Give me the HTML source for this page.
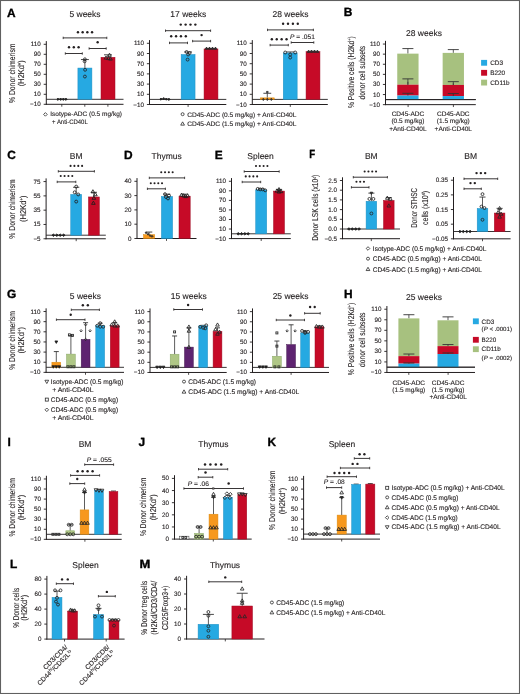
<!DOCTYPE html>
<html><head><meta charset="utf-8"><style>
html,body{margin:0;padding:0;background:#fff;}
body{width:520px;height:694px;overflow:hidden;}
svg{display:block;font-family:"Liberation Sans", sans-serif;text-rendering:geometricPrecision;filter:blur(0.35px);}
text{fill:#231f20;stroke:#231f20;stroke-width:0.12px;}
</style></head><body>
<svg width="520" height="694" viewBox="0 0 520 694">
<rect width="520" height="694" fill="#fff"/>
<rect x="0.5" y="0.5" width="519" height="693" fill="none" stroke="#606060" stroke-width="1.1"/>
<text x="7.1" y="16.9" font-size="11.9" font-weight="bold" fill="#000" style="stroke-width:0.35px;fill:#000;stroke:#000">A</text>
<line x1="46.3" y1="41.1" x2="46.3" y2="104.75" stroke="#231f20" stroke-width="1"/>
<line x1="43.7" y1="104.3" x2="46.3" y2="104.3" stroke="#231f20" stroke-width="0.9"/>
<text x="40.8" y="106.3" font-size="6.3" text-anchor="end">−10</text>
<line x1="43.7" y1="94.3" x2="46.3" y2="94.3" stroke="#231f20" stroke-width="0.9"/>
<text x="40.8" y="96.3" font-size="6.3" text-anchor="end">10</text>
<line x1="43.7" y1="84.3" x2="46.3" y2="84.3" stroke="#231f20" stroke-width="0.9"/>
<text x="40.8" y="86.3" font-size="6.3" text-anchor="end">30</text>
<line x1="43.7" y1="74.3" x2="46.3" y2="74.3" stroke="#231f20" stroke-width="0.9"/>
<text x="40.8" y="76.3" font-size="6.3" text-anchor="end">50</text>
<line x1="43.7" y1="64.3" x2="46.3" y2="64.3" stroke="#231f20" stroke-width="0.9"/>
<text x="40.8" y="66.3" font-size="6.3" text-anchor="end">70</text>
<line x1="43.7" y1="54.3" x2="46.3" y2="54.3" stroke="#231f20" stroke-width="0.9"/>
<text x="40.8" y="56.3" font-size="6.3" text-anchor="end">90</text>
<line x1="43.7" y1="44.3" x2="46.3" y2="44.3" stroke="#231f20" stroke-width="0.9"/>
<text x="40.8" y="46.3" font-size="6.3" text-anchor="end">110</text>
<line x1="45.8" y1="104.3" x2="123.5" y2="104.3" stroke="#231f20" stroke-width="1"/>
<line x1="46.3" y1="99.3" x2="123.5" y2="99.3" stroke="#231f20" stroke-width="0.9"/>
<line x1="61.8" y1="104.3" x2="61.8" y2="106.7" stroke="#231f20" stroke-width="0.8"/>
<line x1="84.8" y1="104.3" x2="84.8" y2="106.7" stroke="#231f20" stroke-width="0.8"/>
<line x1="107.9" y1="104.3" x2="107.9" y2="106.7" stroke="#231f20" stroke-width="0.8"/>
<text x="85" y="17.4" font-size="8.5" text-anchor="middle">5 weeks</text>
<line x1="84.9" y1="68.05" x2="84.9" y2="59.55" stroke="#333" stroke-width="0.8"/>
<line x1="80.94" y1="59.55" x2="88.86" y2="59.55" stroke="#333" stroke-width="0.9"/>
<rect x="77.9" y="68.05" width="14" height="31.25" fill="#26a9e2" stroke="#1f8fc4" stroke-width="0.5"/>
<line x1="108" y1="57.3" x2="108" y2="54.8" stroke="#333" stroke-width="0.8"/>
<line x1="104.04" y1="54.8" x2="111.96" y2="54.8" stroke="#333" stroke-width="0.9"/>
<rect x="101" y="57.3" width="14" height="42" fill="#c60a27" stroke="#9e0c24" stroke-width="0.5"/>
<polygon points="58,98.22 59.08,99.3 58,100.38 56.92,99.3" fill="#222" stroke="#222" stroke-width="0.85"/>
<polygon points="60.7,98.22 61.78,99.3 60.7,100.38 59.62,99.3" fill="#222" stroke="#222" stroke-width="0.85"/>
<polygon points="63.3,98.22 64.38,99.3 63.3,100.38 62.22,99.3" fill="#222" stroke="#222" stroke-width="0.85"/>
<polygon points="66,98.22 67.08,99.3 66,100.38 64.92,99.3" fill="#222" stroke="#222" stroke-width="0.85"/>
<line x1="57" y1="98.9" x2="67" y2="98.9" stroke="#222" stroke-width="0.7"/>
<circle cx="84.9" cy="59.3" r="1.45" fill="none" stroke="#262626" stroke-width="0.85"/>
<circle cx="84.6" cy="61.3" r="1.45" fill="none" stroke="#262626" stroke-width="0.85"/>
<circle cx="85.1" cy="69.8" r="1.45" fill="none" stroke="#262626" stroke-width="0.85"/>
<circle cx="84.9" cy="76.55" r="1.45" fill="none" stroke="#262626" stroke-width="0.85"/>
<polygon points="109.5,53.16 111.31,56.35 107.69,56.35" fill="none" stroke="#262626" stroke-width="0.85"/>
<polygon points="106,55.91 107.81,59.1 104.19,59.1" fill="none" stroke="#262626" stroke-width="0.85"/>
<polygon points="108.5,56.41 110.31,59.6 106.69,59.6" fill="none" stroke="#262626" stroke-width="0.85"/>
<polygon points="110.5,56.91 112.31,60.1 108.69,60.1" fill="none" stroke="#262626" stroke-width="0.85"/>
<line x1="63.2" y1="37.9" x2="106.8" y2="37.9" stroke="#231f20" stroke-width="0.9"/>
<line x1="63.2" y1="36.7" x2="63.2" y2="39.1" stroke="#231f20" stroke-width="0.8"/>
<line x1="106.8" y1="36.7" x2="106.8" y2="39.1" stroke="#231f20" stroke-width="0.8"/>
<circle cx="77.95" cy="32.3" r="1.2" fill="#231f20"/>
<circle cx="82.65" cy="32.3" r="1.2" fill="#231f20"/>
<circle cx="87.35" cy="32.3" r="1.2" fill="#231f20"/>
<circle cx="92.05" cy="32.3" r="1.2" fill="#231f20"/>
<line x1="65.3" y1="53.5" x2="82.3" y2="53.5" stroke="#231f20" stroke-width="0.9"/>
<line x1="65.3" y1="52.3" x2="65.3" y2="54.7" stroke="#231f20" stroke-width="0.8"/>
<line x1="82.3" y1="52.3" x2="82.3" y2="54.7" stroke="#231f20" stroke-width="0.8"/>
<circle cx="69" cy="47.2" r="1.2" fill="#231f20"/>
<circle cx="73.8" cy="47.2" r="1.2" fill="#231f20"/>
<circle cx="78.6" cy="47.2" r="1.2" fill="#231f20"/>
<line x1="89.1" y1="48.5" x2="106.2" y2="48.5" stroke="#231f20" stroke-width="0.9"/>
<line x1="89.1" y1="47.3" x2="89.1" y2="49.7" stroke="#231f20" stroke-width="0.8"/>
<line x1="106.2" y1="47.3" x2="106.2" y2="49.7" stroke="#231f20" stroke-width="0.8"/>
<circle cx="97.65" cy="42.2" r="1.2" fill="#231f20"/>
<text x="-73.3" y="14.99" font-size="8.6" text-anchor="middle" textLength="59.6" lengthAdjust="spacingAndGlyphs" transform="rotate(-90)">% Donor chimerism</text>
<text x="-73.2" y="24.29" font-size="8.6" text-anchor="middle" textLength="26" lengthAdjust="spacingAndGlyphs" transform="rotate(-90)">(H2Kd<tspan font-size="5" dy="-3.0">+</tspan><tspan dy="3.0">)</tspan></text>
<polygon points="45.4,112.6 47.2,114.4 45.4,116.2 43.6,114.4" fill="none" stroke="#2a2a2a" stroke-width="0.8"/>
<text x="50.2" y="116.4" font-size="6.5" textLength="71.8" lengthAdjust="spacingAndGlyphs">Isotype-ADC (0.5 mg/kg)</text>
<text x="52.1" y="124" font-size="6.5" textLength="35.6" lengthAdjust="spacingAndGlyphs">+ Anti-CD40L</text>
<line x1="149.5" y1="40.1" x2="149.5" y2="104.95" stroke="#231f20" stroke-width="1"/>
<line x1="146.9" y1="104.5" x2="149.5" y2="104.5" stroke="#231f20" stroke-width="0.9"/>
<text x="144" y="106.5" font-size="6.3" text-anchor="end">−10</text>
<line x1="146.9" y1="94.3" x2="149.5" y2="94.3" stroke="#231f20" stroke-width="0.9"/>
<text x="144" y="96.3" font-size="6.3" text-anchor="end">10</text>
<line x1="146.9" y1="84.1" x2="149.5" y2="84.1" stroke="#231f20" stroke-width="0.9"/>
<text x="144" y="86.1" font-size="6.3" text-anchor="end">30</text>
<line x1="146.9" y1="73.9" x2="149.5" y2="73.9" stroke="#231f20" stroke-width="0.9"/>
<text x="144" y="75.9" font-size="6.3" text-anchor="end">50</text>
<line x1="146.9" y1="63.7" x2="149.5" y2="63.7" stroke="#231f20" stroke-width="0.9"/>
<text x="144" y="65.7" font-size="6.3" text-anchor="end">70</text>
<line x1="146.9" y1="53.5" x2="149.5" y2="53.5" stroke="#231f20" stroke-width="0.9"/>
<text x="144" y="55.5" font-size="6.3" text-anchor="end">90</text>
<line x1="146.9" y1="43.3" x2="149.5" y2="43.3" stroke="#231f20" stroke-width="0.9"/>
<text x="144" y="45.3" font-size="6.3" text-anchor="end">110</text>
<line x1="149" y1="104.5" x2="226.3" y2="104.5" stroke="#231f20" stroke-width="1"/>
<line x1="149.5" y1="99.4" x2="226.3" y2="99.4" stroke="#231f20" stroke-width="0.9"/>
<line x1="188.1" y1="104.5" x2="188.1" y2="106.9" stroke="#231f20" stroke-width="0.8"/>
<text x="188.3" y="17.4" font-size="8.5" text-anchor="middle">17 weeks</text>
<line x1="188.1" y1="54.52" x2="188.1" y2="51.97" stroke="#333" stroke-width="0.8"/>
<line x1="184.17" y1="51.97" x2="192.03" y2="51.97" stroke="#333" stroke-width="0.9"/>
<rect x="181.15" y="54.52" width="13.9" height="44.88" fill="#26a9e2" stroke="#1f8fc4" stroke-width="0.5"/>
<line x1="211" y1="48.91" x2="211" y2="48.4" stroke="#333" stroke-width="0.8"/>
<line x1="207.07" y1="48.4" x2="214.93" y2="48.4" stroke="#333" stroke-width="0.9"/>
<rect x="204.05" y="48.91" width="13.9" height="50.49" fill="#c60a27" stroke="#9e0c24" stroke-width="0.5"/>
<polygon points="161,98.07 162.08,99.15 161,100.23 159.92,99.15" fill="#222" stroke="#222" stroke-width="0.85"/>
<polygon points="163.7,97.56 164.78,98.64 163.7,99.72 162.62,98.64" fill="#222" stroke="#222" stroke-width="0.85"/>
<polygon points="166.3,98.07 167.38,99.15 166.3,100.23 165.22,99.15" fill="#222" stroke="#222" stroke-width="0.85"/>
<polygon points="169,98.32 170.08,99.4 169,100.48 167.92,99.4" fill="#222" stroke="#222" stroke-width="0.85"/>
<line x1="160" y1="99" x2="170" y2="99" stroke="#222" stroke-width="0.7"/>
<circle cx="186.6" cy="51.97" r="1.45" fill="none" stroke="#262626" stroke-width="0.85"/>
<circle cx="189.6" cy="52.99" r="1.45" fill="none" stroke="#262626" stroke-width="0.85"/>
<circle cx="188.1" cy="54.52" r="1.45" fill="none" stroke="#262626" stroke-width="0.85"/>
<circle cx="187.6" cy="59.62" r="1.45" fill="none" stroke="#262626" stroke-width="0.85"/>
<polygon points="206.5,47.1 207.75,49.3 205.25,49.3" fill="#3a3a3a" stroke="#262626" stroke-width="0.85"/>
<polygon points="209.5,47.1 210.75,49.3 208.25,49.3" fill="#3a3a3a" stroke="#262626" stroke-width="0.85"/>
<polygon points="212.5,47.1 213.75,49.3 211.25,49.3" fill="#3a3a3a" stroke="#262626" stroke-width="0.85"/>
<polygon points="215.5,47.1 216.75,49.3 214.25,49.3" fill="#3a3a3a" stroke="#262626" stroke-width="0.85"/>
<line x1="165.5" y1="30.7" x2="210.6" y2="30.7" stroke="#231f20" stroke-width="0.9"/>
<line x1="165.5" y1="29.5" x2="165.5" y2="31.9" stroke="#231f20" stroke-width="0.8"/>
<line x1="210.6" y1="29.5" x2="210.6" y2="31.9" stroke="#231f20" stroke-width="0.8"/>
<circle cx="180.75" cy="24.6" r="1.2" fill="#231f20"/>
<circle cx="185.62" cy="24.6" r="1.2" fill="#231f20"/>
<circle cx="190.49" cy="24.6" r="1.2" fill="#231f20"/>
<circle cx="195.36" cy="24.6" r="1.2" fill="#231f20"/>
<line x1="169.5" y1="42.9" x2="187.5" y2="42.9" stroke="#231f20" stroke-width="0.9"/>
<line x1="169.5" y1="41.7" x2="169.5" y2="44.1" stroke="#231f20" stroke-width="0.8"/>
<line x1="187.5" y1="41.7" x2="187.5" y2="44.1" stroke="#231f20" stroke-width="0.8"/>
<circle cx="171.19" cy="36.3" r="1.2" fill="#231f20"/>
<circle cx="176.06" cy="36.3" r="1.2" fill="#231f20"/>
<circle cx="180.94" cy="36.3" r="1.2" fill="#231f20"/>
<circle cx="185.81" cy="36.3" r="1.2" fill="#231f20"/>
<line x1="192.6" y1="41.1" x2="210.6" y2="41.1" stroke="#231f20" stroke-width="0.9"/>
<line x1="192.6" y1="39.9" x2="192.6" y2="42.3" stroke="#231f20" stroke-width="0.8"/>
<line x1="210.6" y1="39.9" x2="210.6" y2="42.3" stroke="#231f20" stroke-width="0.8"/>
<circle cx="201.6" cy="35.1" r="1.2" fill="#231f20"/>
<circle cx="182.6" cy="114.2" r="1.5" fill="none" stroke="#2a2a2a" stroke-width="0.8"/>
<text x="187.2" y="116.6" font-size="6.5" textLength="109.2" lengthAdjust="spacingAndGlyphs">CD45-ADC (0.5 mg/kg) + Anti-CD40L</text>
<polygon points="182.6,121.85 184.47,125.15 180.72,125.15" fill="none" stroke="#2a2a2a" stroke-width="0.8"/>
<text x="187.2" y="126.2" font-size="6.5" textLength="109.2" lengthAdjust="spacingAndGlyphs">CD45-ADC (1.5 mg/kg) + Anti-CD40L</text>
<line x1="252.3" y1="40.1" x2="252.3" y2="104.95" stroke="#231f20" stroke-width="1"/>
<line x1="249.7" y1="104.5" x2="252.3" y2="104.5" stroke="#231f20" stroke-width="0.9"/>
<text x="246.8" y="106.5" font-size="6.3" text-anchor="end">−10</text>
<line x1="249.7" y1="94.3" x2="252.3" y2="94.3" stroke="#231f20" stroke-width="0.9"/>
<text x="246.8" y="96.3" font-size="6.3" text-anchor="end">10</text>
<line x1="249.7" y1="84.1" x2="252.3" y2="84.1" stroke="#231f20" stroke-width="0.9"/>
<text x="246.8" y="86.1" font-size="6.3" text-anchor="end">30</text>
<line x1="249.7" y1="73.9" x2="252.3" y2="73.9" stroke="#231f20" stroke-width="0.9"/>
<text x="246.8" y="75.9" font-size="6.3" text-anchor="end">50</text>
<line x1="249.7" y1="63.7" x2="252.3" y2="63.7" stroke="#231f20" stroke-width="0.9"/>
<text x="246.8" y="65.7" font-size="6.3" text-anchor="end">70</text>
<line x1="249.7" y1="53.5" x2="252.3" y2="53.5" stroke="#231f20" stroke-width="0.9"/>
<text x="246.8" y="55.5" font-size="6.3" text-anchor="end">90</text>
<line x1="249.7" y1="43.3" x2="252.3" y2="43.3" stroke="#231f20" stroke-width="0.9"/>
<text x="246.8" y="45.3" font-size="6.3" text-anchor="end">110</text>
<line x1="251.8" y1="104.5" x2="327.8" y2="104.5" stroke="#231f20" stroke-width="1"/>
<line x1="252.3" y1="99.4" x2="327.8" y2="99.4" stroke="#231f20" stroke-width="0.9"/>
<line x1="290.3" y1="104.5" x2="290.3" y2="106.9" stroke="#231f20" stroke-width="0.8"/>
<text x="290.5" y="17.4" font-size="8.5" text-anchor="middle">28 weeks</text>
<line x1="267.3" y1="97.87" x2="267.3" y2="93.28" stroke="#333" stroke-width="0.8"/>
<line x1="263.37" y1="93.28" x2="271.23" y2="93.28" stroke="#333" stroke-width="0.9"/>
<rect x="260.35" y="97.87" width="13.9" height="1.53" fill="#f7981d" stroke="#d98a10" stroke-width="0.5"/>
<line x1="290.2" y1="52.99" x2="290.2" y2="51.97" stroke="#333" stroke-width="0.8"/>
<line x1="286.27" y1="51.97" x2="294.13" y2="51.97" stroke="#333" stroke-width="0.9"/>
<rect x="283.25" y="52.99" width="13.9" height="46.41" fill="#26a9e2" stroke="#1f8fc4" stroke-width="0.5"/>
<line x1="313" y1="51.72" x2="313" y2="51.21" stroke="#333" stroke-width="0.8"/>
<line x1="309.07" y1="51.21" x2="316.93" y2="51.21" stroke="#333" stroke-width="0.9"/>
<rect x="306.05" y="51.72" width="13.9" height="47.69" fill="#c60a27" stroke="#9e0c24" stroke-width="0.5"/>
<polygon points="263.3,98.32 264.38,99.4 263.3,100.48 262.22,99.4" fill="#333" stroke="#333" stroke-width="0.85"/>
<polygon points="267.3,98.32 268.38,99.4 267.3,100.48 266.22,99.4" fill="#333" stroke="#333" stroke-width="0.85"/>
<polygon points="271.3,98.32 272.38,99.4 271.3,100.48 270.22,99.4" fill="#333" stroke="#333" stroke-width="0.85"/>
<polygon points="267.3,90.93 268.38,92.01 267.3,93.09 266.22,92.01" fill="#333" stroke="#333" stroke-width="0.85"/>
<circle cx="285.2" cy="52.48" r="1.45" fill="none" stroke="#262626" stroke-width="0.85"/>
<circle cx="295.2" cy="52.48" r="1.45" fill="none" stroke="#262626" stroke-width="0.85"/>
<circle cx="290.2" cy="54.52" r="1.45" fill="none" stroke="#262626" stroke-width="0.85"/>
<circle cx="290.2" cy="57.58" r="1.45" fill="none" stroke="#262626" stroke-width="0.85"/>
<polygon points="308.5,50.16 309.75,52.36 307.25,52.36" fill="#3a3a3a" stroke="#262626" stroke-width="0.85"/>
<polygon points="311.5,50.16 312.75,52.36 310.25,52.36" fill="#3a3a3a" stroke="#262626" stroke-width="0.85"/>
<polygon points="314.5,50.16 315.75,52.36 313.25,52.36" fill="#3a3a3a" stroke="#262626" stroke-width="0.85"/>
<polygon points="317.5,50.16 318.75,52.36 316.25,52.36" fill="#3a3a3a" stroke="#262626" stroke-width="0.85"/>
<line x1="267.5" y1="29.9" x2="313.4" y2="29.9" stroke="#231f20" stroke-width="0.9"/>
<line x1="267.5" y1="28.7" x2="267.5" y2="31.1" stroke="#231f20" stroke-width="0.8"/>
<line x1="313.4" y1="28.7" x2="313.4" y2="31.1" stroke="#231f20" stroke-width="0.8"/>
<circle cx="283.1" cy="23.7" r="1.2" fill="#231f20"/>
<circle cx="288" cy="23.7" r="1.2" fill="#231f20"/>
<circle cx="292.9" cy="23.7" r="1.2" fill="#231f20"/>
<circle cx="297.8" cy="23.7" r="1.2" fill="#231f20"/>
<line x1="270.1" y1="45.1" x2="288.3" y2="45.1" stroke="#231f20" stroke-width="0.9"/>
<line x1="270.1" y1="43.9" x2="270.1" y2="46.3" stroke="#231f20" stroke-width="0.8"/>
<line x1="288.3" y1="43.9" x2="288.3" y2="46.3" stroke="#231f20" stroke-width="0.8"/>
<circle cx="271.85" cy="39.2" r="1.2" fill="#231f20"/>
<circle cx="276.75" cy="39.2" r="1.2" fill="#231f20"/>
<circle cx="281.65" cy="39.2" r="1.2" fill="#231f20"/>
<circle cx="286.55" cy="39.2" r="1.2" fill="#231f20"/>
<line x1="291.2" y1="42.5" x2="313.8" y2="42.5" stroke="#231f20" stroke-width="0.9"/>
<line x1="291.2" y1="41.3" x2="291.2" y2="43.7" stroke="#231f20" stroke-width="0.8"/>
<line x1="313.8" y1="41.3" x2="313.8" y2="43.7" stroke="#231f20" stroke-width="0.8"/>
<text x="302.5" y="39.1" font-size="6.6" text-anchor="middle"><tspan font-style="italic">P</tspan> = .051</text>
<text x="343.8" y="16.3" font-size="11.9" font-weight="bold" fill="#000" style="stroke-width:0.35px;fill:#000;stroke:#000">B</text>
<line x1="385.5" y1="40.85" x2="385.5" y2="105.1" stroke="#231f20" stroke-width="1"/>
<line x1="382.9" y1="104.65" x2="385.5" y2="104.65" stroke="#231f20" stroke-width="0.9"/>
<text x="380" y="106.65" font-size="6.3" text-anchor="end">−10</text>
<line x1="382.9" y1="94.55" x2="385.5" y2="94.55" stroke="#231f20" stroke-width="0.9"/>
<text x="380" y="96.55" font-size="6.3" text-anchor="end">10</text>
<line x1="382.9" y1="84.45" x2="385.5" y2="84.45" stroke="#231f20" stroke-width="0.9"/>
<text x="380" y="86.45" font-size="6.3" text-anchor="end">30</text>
<line x1="382.9" y1="74.35" x2="385.5" y2="74.35" stroke="#231f20" stroke-width="0.9"/>
<text x="380" y="76.35" font-size="6.3" text-anchor="end">50</text>
<line x1="382.9" y1="64.25" x2="385.5" y2="64.25" stroke="#231f20" stroke-width="0.9"/>
<text x="380" y="66.25" font-size="6.3" text-anchor="end">70</text>
<line x1="382.9" y1="54.15" x2="385.5" y2="54.15" stroke="#231f20" stroke-width="0.9"/>
<text x="380" y="56.15" font-size="6.3" text-anchor="end">90</text>
<line x1="382.9" y1="44.05" x2="385.5" y2="44.05" stroke="#231f20" stroke-width="0.9"/>
<text x="380" y="46.05" font-size="6.3" text-anchor="end">110</text>
<line x1="385" y1="104.65" x2="475.8" y2="104.65" stroke="#231f20" stroke-width="1"/>
<line x1="385.5" y1="99.6" x2="475.8" y2="99.6" stroke="#231f20" stroke-width="0.9"/>
<line x1="408.1" y1="104.65" x2="408.1" y2="107.05" stroke="#231f20" stroke-width="0.8"/>
<line x1="453.4" y1="104.65" x2="453.4" y2="107.05" stroke="#231f20" stroke-width="0.8"/>
<text x="424" y="35.8" font-size="8.5" text-anchor="middle">28 weeks</text>
<line x1="407.9" y1="53.64" x2="407.9" y2="48.59" stroke="#333" stroke-width="0.8"/>
<line x1="402.4" y1="48.59" x2="413.4" y2="48.59" stroke="#333" stroke-width="0.9"/>
<line x1="407.9" y1="84.7" x2="407.9" y2="78.89" stroke="#333" stroke-width="0.8"/>
<line x1="402.4" y1="78.89" x2="413.4" y2="78.89" stroke="#333" stroke-width="0.9"/>
<rect x="397.25" y="53.64" width="21.3" height="31.06" fill="#a7c17f"/>
<rect x="397.25" y="84.7" width="21.3" height="10.86" fill="#c60a27"/>
<rect x="397.25" y="95.56" width="21.3" height="4.04" fill="#26a9e2"/>
<line x1="407.9" y1="84.7" x2="407.9" y2="81.8" stroke="#333" stroke-width="0.8"/>
<line x1="407.9" y1="81.8" x2="407.9" y2="81.8" stroke="#333" stroke-width="0.9"/>
<line x1="402.4" y1="78.89" x2="413.4" y2="78.89" stroke="#333" stroke-width="0.9"/>
<line x1="407.9" y1="84.7" x2="407.9" y2="78.89" stroke="#333" stroke-width="0.8"/>
<line x1="402.4" y1="93.29" x2="413.4" y2="93.29" stroke="#333" stroke-width="0.9"/>
<line x1="407.9" y1="95.56" x2="407.9" y2="93.29" stroke="#333" stroke-width="0.8"/>
<line x1="453.3" y1="52.89" x2="453.3" y2="49.6" stroke="#333" stroke-width="0.8"/>
<line x1="447.8" y1="49.6" x2="458.8" y2="49.6" stroke="#333" stroke-width="0.9"/>
<line x1="453.3" y1="84.95" x2="453.3" y2="81.67" stroke="#333" stroke-width="0.8"/>
<line x1="447.8" y1="81.67" x2="458.8" y2="81.67" stroke="#333" stroke-width="0.9"/>
<rect x="442.65" y="52.89" width="21.3" height="32.07" fill="#a7c17f"/>
<rect x="442.65" y="84.95" width="21.3" height="11.11" fill="#c60a27"/>
<rect x="442.65" y="96.06" width="21.3" height="3.53" fill="#26a9e2"/>
<line x1="453.3" y1="84.95" x2="453.3" y2="83.31" stroke="#333" stroke-width="0.8"/>
<line x1="453.3" y1="83.31" x2="453.3" y2="83.31" stroke="#333" stroke-width="0.9"/>
<line x1="447.8" y1="81.67" x2="458.8" y2="81.67" stroke="#333" stroke-width="0.9"/>
<line x1="453.3" y1="84.95" x2="453.3" y2="81.67" stroke="#333" stroke-width="0.8"/>
<line x1="447.8" y1="93.54" x2="458.8" y2="93.54" stroke="#333" stroke-width="0.9"/>
<line x1="453.3" y1="96.06" x2="453.3" y2="93.54" stroke="#333" stroke-width="0.8"/>
<line x1="385.5" y1="99.6" x2="475.8" y2="99.6" stroke="#231f20" stroke-width="0.9"/>
<rect x="481.1" y="59.9" width="6" height="5.8" fill="#26a9e2"/>
<text x="490.2" y="65.1" font-size="6.4">CD3</text>
<rect x="481.1" y="69.9" width="6" height="5.8" fill="#c60a27"/>
<text x="490.2" y="75.1" font-size="6.4">B220</text>
<rect x="481.1" y="79.7" width="6" height="5.8" fill="#a7c17f"/>
<text x="490.2" y="84.9" font-size="6.4">CD11b</text>
<text x="407.9" y="115.6" font-size="6.5" text-anchor="middle">CD45-ADC</text>
<text x="407.9" y="123.4" font-size="6.5" text-anchor="middle">(0.5 mg/kg)</text>
<text x="407.9" y="130.8" font-size="6.5" text-anchor="middle">+Anti-CD40L</text>
<text x="453.3" y="115.6" font-size="6.5" text-anchor="middle">CD45-ADC</text>
<text x="453.3" y="123.4" font-size="6.5" text-anchor="middle">(1.5 mg/kg)</text>
<text x="453.3" y="130.8" font-size="6.5" text-anchor="middle">+Anti-CD40L</text>
<text x="-72.1" y="353.89" font-size="8.6" text-anchor="middle" textLength="71.8" lengthAdjust="spacingAndGlyphs" transform="rotate(-90)">% Positive cells (H2Kd<tspan font-size="5" dy="-3.0">+</tspan><tspan dy="3.0">)</tspan></text>
<text x="-72.6" y="364.59" font-size="8.6" text-anchor="middle" textLength="53.6" lengthAdjust="spacingAndGlyphs" transform="rotate(-90)">donor cell subsets</text>
<text x="7.3" y="158.9" font-size="11.9" font-weight="bold" fill="#000" style="stroke-width:0.35px;fill:#000;stroke:#000">C</text>
<line x1="46.1" y1="178.38" x2="46.1" y2="239.22" stroke="#231f20" stroke-width="1"/>
<line x1="43.5" y1="238.77" x2="46.1" y2="238.77" stroke="#231f20" stroke-width="0.9"/>
<text x="40.6" y="240.77" font-size="6.3" text-anchor="end">−5</text>
<line x1="43.5" y1="224.47" x2="46.1" y2="224.47" stroke="#231f20" stroke-width="0.9"/>
<text x="40.6" y="226.47" font-size="6.3" text-anchor="end">15</text>
<line x1="43.5" y1="210.17" x2="46.1" y2="210.17" stroke="#231f20" stroke-width="0.9"/>
<text x="40.6" y="212.17" font-size="6.3" text-anchor="end">35</text>
<line x1="43.5" y1="195.88" x2="46.1" y2="195.88" stroke="#231f20" stroke-width="0.9"/>
<text x="40.6" y="197.88" font-size="6.3" text-anchor="end">55</text>
<line x1="43.5" y1="181.57" x2="46.1" y2="181.57" stroke="#231f20" stroke-width="0.9"/>
<text x="40.6" y="183.57" font-size="6.3" text-anchor="end">75</text>
<line x1="45.6" y1="238.77" x2="105.8" y2="238.77" stroke="#231f20" stroke-width="1"/>
<line x1="46.1" y1="235.2" x2="105.8" y2="235.2" stroke="#231f20" stroke-width="0.9"/>
<line x1="76.2" y1="238.77" x2="76.2" y2="241.17" stroke="#231f20" stroke-width="0.8"/>
<text x="76.2" y="159.1" font-size="8.5" text-anchor="middle">BM</text>
<line x1="76.2" y1="194.44" x2="76.2" y2="187.29" stroke="#333" stroke-width="0.8"/>
<line x1="73.09" y1="187.29" x2="79.31" y2="187.29" stroke="#333" stroke-width="0.9"/>
<rect x="70.75" y="194.44" width="10.9" height="40.75" fill="#26a9e2" stroke="#1f8fc4" stroke-width="0.5"/>
<line x1="93.9" y1="196.95" x2="93.9" y2="192.3" stroke="#333" stroke-width="0.8"/>
<line x1="90.79" y1="192.3" x2="97.01" y2="192.3" stroke="#333" stroke-width="0.9"/>
<rect x="88.45" y="196.95" width="10.9" height="38.25" fill="#c60a27" stroke="#9e0c24" stroke-width="0.5"/>
<polygon points="53.4,233.88 54.72,235.2 53.4,236.52 52.08,235.2" fill="#222" stroke="#222" stroke-width="0.85"/>
<polygon points="56.8,233.88 58.12,235.2 56.8,236.52 55.48,235.2" fill="#222" stroke="#222" stroke-width="0.85"/>
<polygon points="60.2,233.88 61.52,235.2 60.2,236.52 58.88,235.2" fill="#222" stroke="#222" stroke-width="0.85"/>
<polygon points="63.6,233.88 64.92,235.2 63.6,236.52 62.28,235.2" fill="#222" stroke="#222" stroke-width="0.85"/>
<line x1="52.2" y1="235.2" x2="64.8" y2="235.2" stroke="#222" stroke-width="0.7"/>
<circle cx="76.2" cy="186.58" r="1.45" fill="none" stroke="#1e1e1e" stroke-width="0.85"/>
<circle cx="74.7" cy="192.3" r="1.45" fill="none" stroke="#1e1e1e" stroke-width="0.85"/>
<circle cx="78.2" cy="194.44" r="1.45" fill="none" stroke="#1e1e1e" stroke-width="0.85"/>
<circle cx="76.2" cy="201.59" r="1.45" fill="none" stroke="#1e1e1e" stroke-width="0.85"/>
<polygon points="92.9,189.7 94.71,192.89 91.09,192.89" fill="none" stroke="#1e1e1e" stroke-width="0.85"/>
<polygon points="95.4,192.56 97.21,195.75 93.59,195.75" fill="none" stroke="#1e1e1e" stroke-width="0.85"/>
<polygon points="93.9,196.13 95.71,199.32 92.09,199.32" fill="none" stroke="#1e1e1e" stroke-width="0.85"/>
<polygon points="93.4,201.14 95.21,204.33 91.59,204.33" fill="none" stroke="#1e1e1e" stroke-width="0.85"/>
<line x1="58.3" y1="171.3" x2="94.4" y2="171.3" stroke="#231f20" stroke-width="0.9"/>
<line x1="58.3" y1="170.1" x2="58.3" y2="172.5" stroke="#231f20" stroke-width="0.8"/>
<line x1="94.4" y1="170.1" x2="94.4" y2="172.5" stroke="#231f20" stroke-width="0.8"/>
<circle cx="70.57" cy="165.9" r="1.05" fill="#231f20"/>
<circle cx="74.42" cy="165.9" r="1.05" fill="#231f20"/>
<circle cx="78.27" cy="165.9" r="1.05" fill="#231f20"/>
<circle cx="82.12" cy="165.9" r="1.05" fill="#231f20"/>
<line x1="57.2" y1="181.9" x2="75.8" y2="181.9" stroke="#231f20" stroke-width="0.9"/>
<line x1="57.2" y1="180.7" x2="57.2" y2="183.1" stroke="#231f20" stroke-width="0.8"/>
<line x1="75.8" y1="180.7" x2="75.8" y2="183.1" stroke="#231f20" stroke-width="0.8"/>
<circle cx="60.73" cy="176" r="1.05" fill="#231f20"/>
<circle cx="64.58" cy="176" r="1.05" fill="#231f20"/>
<circle cx="68.42" cy="176" r="1.05" fill="#231f20"/>
<circle cx="72.28" cy="176" r="1.05" fill="#231f20"/>
<text x="-209" y="14.94" font-size="8.6" text-anchor="middle" textLength="59.3" lengthAdjust="spacingAndGlyphs" transform="rotate(-90)">% Donor chimerism</text>
<text x="-208.7" y="25.59" font-size="8.6" text-anchor="middle" textLength="26.5" lengthAdjust="spacingAndGlyphs" transform="rotate(-90)">(H2Kd<tspan font-size="5" dy="-3.0">+</tspan><tspan dy="3.0">)</tspan></text>
<text x="124.1" y="158.9" font-size="11.9" font-weight="bold" fill="#000" style="stroke-width:0.35px;fill:#000;stroke:#000">D</text>
<line x1="137" y1="178.1" x2="137" y2="238.95" stroke="#231f20" stroke-width="1"/>
<line x1="134.4" y1="238.5" x2="137" y2="238.5" stroke="#231f20" stroke-width="0.9"/>
<text x="131.5" y="240.5" font-size="6.3" text-anchor="end">0</text>
<line x1="134.4" y1="224.2" x2="137" y2="224.2" stroke="#231f20" stroke-width="0.9"/>
<text x="131.5" y="226.2" font-size="6.3" text-anchor="end">10</text>
<line x1="134.4" y1="209.9" x2="137" y2="209.9" stroke="#231f20" stroke-width="0.9"/>
<text x="131.5" y="211.9" font-size="6.3" text-anchor="end">20</text>
<line x1="134.4" y1="195.6" x2="137" y2="195.6" stroke="#231f20" stroke-width="0.9"/>
<text x="131.5" y="197.6" font-size="6.3" text-anchor="end">30</text>
<line x1="134.4" y1="181.3" x2="137" y2="181.3" stroke="#231f20" stroke-width="0.9"/>
<text x="131.5" y="183.3" font-size="6.3" text-anchor="end">40</text>
<line x1="136.5" y1="238.5" x2="196.5" y2="238.5" stroke="#231f20" stroke-width="1"/>
<line x1="166.5" y1="238.5" x2="166.5" y2="240.9" stroke="#231f20" stroke-width="0.8"/>
<text x="166.6" y="158.9" font-size="8.5" text-anchor="middle">Thymus</text>
<line x1="149.1" y1="234.64" x2="149.1" y2="232.06" stroke="#333" stroke-width="0.8"/>
<line x1="145.91" y1="232.06" x2="152.29" y2="232.06" stroke="#333" stroke-width="0.9"/>
<rect x="143.5" y="234.64" width="11.2" height="3.86" fill="#f7981d" stroke="#d98a10" stroke-width="0.5"/>
<line x1="167" y1="196.46" x2="167" y2="194.17" stroke="#333" stroke-width="0.8"/>
<line x1="163.81" y1="194.17" x2="170.19" y2="194.17" stroke="#333" stroke-width="0.9"/>
<rect x="161.4" y="196.46" width="11.2" height="42.04" fill="#26a9e2" stroke="#1f8fc4" stroke-width="0.5"/>
<line x1="184.6" y1="196.17" x2="184.6" y2="194.17" stroke="#333" stroke-width="0.8"/>
<line x1="181.41" y1="194.17" x2="187.79" y2="194.17" stroke="#333" stroke-width="0.9"/>
<rect x="179" y="196.17" width="11.2" height="42.33" fill="#c60a27" stroke="#9e0c24" stroke-width="0.5"/>
<polygon points="146.1,231.82 147.06,232.78 146.1,233.74 145.14,232.78" fill="#333" stroke="#262626" stroke-width="0.85"/>
<polygon points="148.1,233.25 149.06,234.21 148.1,235.17 147.14,234.21" fill="#333" stroke="#262626" stroke-width="0.85"/>
<polygon points="150.1,234.68 151.06,235.64 150.1,236.6 149.14,235.64" fill="#333" stroke="#262626" stroke-width="0.85"/>
<polygon points="152.1,235.39 153.06,236.35 152.1,237.31 151.14,236.35" fill="#333" stroke="#262626" stroke-width="0.85"/>
<circle cx="165" cy="194.17" r="1.45" fill="none" stroke="#1e1e1e" stroke-width="0.85"/>
<circle cx="169" cy="195.6" r="1.45" fill="none" stroke="#1e1e1e" stroke-width="0.85"/>
<circle cx="166" cy="197.03" r="1.45" fill="none" stroke="#1e1e1e" stroke-width="0.85"/>
<circle cx="168" cy="198.46" r="1.45" fill="none" stroke="#1e1e1e" stroke-width="0.85"/>
<polygon points="181.6,193 183.41,196.19 179.79,196.19" fill="none" stroke="#1e1e1e" stroke-width="0.85"/>
<polygon points="183.6,193.72 185.41,196.91 181.79,196.91" fill="none" stroke="#1e1e1e" stroke-width="0.85"/>
<polygon points="185.6,194.43 187.41,197.62 183.79,197.62" fill="none" stroke="#1e1e1e" stroke-width="0.85"/>
<polygon points="187.6,193.72 189.41,196.91 185.79,196.91" fill="none" stroke="#1e1e1e" stroke-width="0.85"/>
<line x1="149.3" y1="177.9" x2="184.6" y2="177.9" stroke="#231f20" stroke-width="0.9"/>
<line x1="149.3" y1="176.7" x2="149.3" y2="179.1" stroke="#231f20" stroke-width="0.8"/>
<line x1="184.6" y1="176.7" x2="184.6" y2="179.1" stroke="#231f20" stroke-width="0.8"/>
<circle cx="161.25" cy="172.3" r="1.05" fill="#231f20"/>
<circle cx="165.05" cy="172.3" r="1.05" fill="#231f20"/>
<circle cx="168.85" cy="172.3" r="1.05" fill="#231f20"/>
<circle cx="172.65" cy="172.3" r="1.05" fill="#231f20"/>
<line x1="147.4" y1="188.8" x2="165.4" y2="188.8" stroke="#231f20" stroke-width="0.9"/>
<line x1="147.4" y1="187.6" x2="147.4" y2="190" stroke="#231f20" stroke-width="0.8"/>
<line x1="165.4" y1="187.6" x2="165.4" y2="190" stroke="#231f20" stroke-width="0.8"/>
<circle cx="150.78" cy="183.2" r="1.05" fill="#231f20"/>
<circle cx="154.53" cy="183.2" r="1.05" fill="#231f20"/>
<circle cx="158.28" cy="183.2" r="1.05" fill="#231f20"/>
<circle cx="162.03" cy="183.2" r="1.05" fill="#231f20"/>
<text x="214.8" y="158.8" font-size="11.9" font-weight="bold" fill="#000" style="stroke-width:0.35px;fill:#000;stroke:#000">E</text>
<line x1="231.5" y1="178.08" x2="231.5" y2="239.03" stroke="#231f20" stroke-width="1"/>
<line x1="228.9" y1="238.58" x2="231.5" y2="238.58" stroke="#231f20" stroke-width="0.9"/>
<text x="226" y="240.58" font-size="6.3" text-anchor="end">−10</text>
<line x1="228.9" y1="229.03" x2="231.5" y2="229.03" stroke="#231f20" stroke-width="0.9"/>
<text x="226" y="231.03" font-size="6.3" text-anchor="end">10</text>
<line x1="228.9" y1="219.48" x2="231.5" y2="219.48" stroke="#231f20" stroke-width="0.9"/>
<text x="226" y="221.48" font-size="6.3" text-anchor="end">30</text>
<line x1="228.9" y1="209.93" x2="231.5" y2="209.93" stroke="#231f20" stroke-width="0.9"/>
<text x="226" y="211.93" font-size="6.3" text-anchor="end">50</text>
<line x1="228.9" y1="200.38" x2="231.5" y2="200.38" stroke="#231f20" stroke-width="0.9"/>
<text x="226" y="202.38" font-size="6.3" text-anchor="end">70</text>
<line x1="228.9" y1="190.83" x2="231.5" y2="190.83" stroke="#231f20" stroke-width="0.9"/>
<text x="226" y="192.83" font-size="6.3" text-anchor="end">90</text>
<line x1="228.9" y1="181.28" x2="231.5" y2="181.28" stroke="#231f20" stroke-width="0.9"/>
<text x="226" y="183.28" font-size="6.3" text-anchor="end">110</text>
<line x1="231" y1="238.58" x2="290.8" y2="238.58" stroke="#231f20" stroke-width="1"/>
<line x1="231.5" y1="233.8" x2="290.8" y2="233.8" stroke="#231f20" stroke-width="0.9"/>
<line x1="261.2" y1="238.58" x2="261.2" y2="240.98" stroke="#231f20" stroke-width="0.8"/>
<text x="260.6" y="159.4" font-size="8.5" text-anchor="middle">Spleen</text>
<line x1="261.2" y1="189.87" x2="261.2" y2="188.92" stroke="#333" stroke-width="0.8"/>
<line x1="258.06" y1="188.92" x2="264.33" y2="188.92" stroke="#333" stroke-width="0.9"/>
<rect x="255.7" y="189.87" width="11" height="43.93" fill="#26a9e2" stroke="#1f8fc4" stroke-width="0.5"/>
<line x1="279" y1="191.06" x2="279" y2="189.39" stroke="#333" stroke-width="0.8"/>
<line x1="275.87" y1="189.39" x2="282.13" y2="189.39" stroke="#333" stroke-width="0.9"/>
<rect x="273.5" y="191.06" width="11" height="42.74" fill="#c60a27" stroke="#9e0c24" stroke-width="0.5"/>
<polygon points="238.25,232.48 239.57,233.8 238.25,235.12 236.93,233.8" fill="#222" stroke="#222" stroke-width="0.85"/>
<polygon points="241.55,232.48 242.87,233.8 241.55,235.12 240.23,233.8" fill="#222" stroke="#222" stroke-width="0.85"/>
<polygon points="244.85,232.48 246.17,233.8 244.85,235.12 243.53,233.8" fill="#222" stroke="#222" stroke-width="0.85"/>
<polygon points="248.15,232.48 249.47,233.8 248.15,235.12 246.83,233.8" fill="#222" stroke="#222" stroke-width="0.85"/>
<line x1="237.05" y1="233.8" x2="249.35" y2="233.8" stroke="#222" stroke-width="0.7"/>
<circle cx="257.7" cy="188.92" r="1.45" fill="none" stroke="#1e1e1e" stroke-width="0.85"/>
<circle cx="260.2" cy="189.39" r="1.45" fill="none" stroke="#1e1e1e" stroke-width="0.85"/>
<circle cx="262.7" cy="189.39" r="1.45" fill="none" stroke="#1e1e1e" stroke-width="0.85"/>
<circle cx="265.2" cy="190.35" r="1.45" fill="none" stroke="#1e1e1e" stroke-width="0.85"/>
<polygon points="279,187.51 280.81,190.7 277.19,190.7" fill="none" stroke="#1e1e1e" stroke-width="0.85"/>
<polygon points="277,188.94 278.81,192.13 275.19,192.13" fill="none" stroke="#1e1e1e" stroke-width="0.85"/>
<polygon points="281,189.42 282.81,192.61 279.19,192.61" fill="none" stroke="#1e1e1e" stroke-width="0.85"/>
<polygon points="279,189.9 280.81,193.09 277.19,193.09" fill="none" stroke="#1e1e1e" stroke-width="0.85"/>
<line x1="244.2" y1="171.5" x2="279.2" y2="171.5" stroke="#231f20" stroke-width="0.9"/>
<line x1="244.2" y1="170.3" x2="244.2" y2="172.7" stroke="#231f20" stroke-width="0.8"/>
<line x1="279.2" y1="170.3" x2="279.2" y2="172.7" stroke="#231f20" stroke-width="0.8"/>
<circle cx="256" cy="166" r="1.05" fill="#231f20"/>
<circle cx="259.8" cy="166" r="1.05" fill="#231f20"/>
<circle cx="263.6" cy="166" r="1.05" fill="#231f20"/>
<circle cx="267.4" cy="166" r="1.05" fill="#231f20"/>
<line x1="242.2" y1="182" x2="260.7" y2="182" stroke="#231f20" stroke-width="0.9"/>
<line x1="242.2" y1="180.8" x2="242.2" y2="183.2" stroke="#231f20" stroke-width="0.8"/>
<line x1="260.7" y1="180.8" x2="260.7" y2="183.2" stroke="#231f20" stroke-width="0.8"/>
<circle cx="245.75" cy="176.4" r="1.05" fill="#231f20"/>
<circle cx="249.55" cy="176.4" r="1.05" fill="#231f20"/>
<circle cx="253.35" cy="176.4" r="1.05" fill="#231f20"/>
<circle cx="257.15" cy="176.4" r="1.05" fill="#231f20"/>
<text x="309.3" y="157.8" font-size="11.9" font-weight="bold" fill="#000" textLength="5.9" lengthAdjust="spacingAndGlyphs" style="stroke-width:0.35px;fill:#000;stroke:#000">F</text>
<line x1="342.5" y1="177.3" x2="342.5" y2="239.15" stroke="#231f20" stroke-width="1"/>
<line x1="339.9" y1="238.7" x2="342.5" y2="238.7" stroke="#231f20" stroke-width="0.9"/>
<text x="337" y="240.7" font-size="6.3" text-anchor="end">−0.5</text>
<line x1="339.9" y1="229" x2="342.5" y2="229" stroke="#231f20" stroke-width="0.9"/>
<text x="337" y="231" font-size="6.3" text-anchor="end">0.0</text>
<line x1="339.9" y1="219.3" x2="342.5" y2="219.3" stroke="#231f20" stroke-width="0.9"/>
<text x="337" y="221.3" font-size="6.3" text-anchor="end">0.5</text>
<line x1="339.9" y1="209.6" x2="342.5" y2="209.6" stroke="#231f20" stroke-width="0.9"/>
<text x="337" y="211.6" font-size="6.3" text-anchor="end">1.0</text>
<line x1="339.9" y1="199.9" x2="342.5" y2="199.9" stroke="#231f20" stroke-width="0.9"/>
<text x="337" y="201.9" font-size="6.3" text-anchor="end">1.5</text>
<line x1="339.9" y1="190.2" x2="342.5" y2="190.2" stroke="#231f20" stroke-width="0.9"/>
<text x="337" y="192.2" font-size="6.3" text-anchor="end">2.0</text>
<line x1="339.9" y1="180.5" x2="342.5" y2="180.5" stroke="#231f20" stroke-width="0.9"/>
<text x="337" y="182.5" font-size="6.3" text-anchor="end">2.5</text>
<line x1="342" y1="238.7" x2="400" y2="238.7" stroke="#231f20" stroke-width="1"/>
<line x1="342.5" y1="229" x2="400" y2="229" stroke="#231f20" stroke-width="0.9"/>
<line x1="371.3" y1="238.7" x2="371.3" y2="241.1" stroke="#231f20" stroke-width="0.8"/>
<text x="371.3" y="158.8" font-size="8.5" text-anchor="middle">BM</text>
<line x1="371.4" y1="201.26" x2="371.4" y2="193.11" stroke="#333" stroke-width="0.8"/>
<line x1="368.38" y1="193.11" x2="374.42" y2="193.11" stroke="#333" stroke-width="0.9"/>
<rect x="366.1" y="201.26" width="10.6" height="27.74" fill="#26a9e2" stroke="#1f8fc4" stroke-width="0.5"/>
<line x1="388.8" y1="200.48" x2="388.8" y2="197.57" stroke="#333" stroke-width="0.8"/>
<line x1="385.78" y1="197.57" x2="391.82" y2="197.57" stroke="#333" stroke-width="0.9"/>
<rect x="383.5" y="200.48" width="10.6" height="28.52" fill="#c60a27" stroke="#9e0c24" stroke-width="0.5"/>
<polygon points="348.9,227.68 350.22,229 348.9,230.32 347.58,229" fill="#222" stroke="#222" stroke-width="0.85"/>
<polygon points="352.3,227.68 353.62,229 352.3,230.32 350.98,229" fill="#222" stroke="#222" stroke-width="0.85"/>
<polygon points="355.7,227.68 357.02,229 355.7,230.32 354.38,229" fill="#222" stroke="#222" stroke-width="0.85"/>
<polygon points="359.1,227.68 360.42,229 359.1,230.32 357.78,229" fill="#222" stroke="#222" stroke-width="0.85"/>
<line x1="347.7" y1="229" x2="360.3" y2="229" stroke="#222" stroke-width="0.7"/>
<polygon points="371.4,194.41 372.65,192.21 370.15,192.21" fill="#333" stroke="#262626" stroke-width="0.85"/>
<circle cx="369.4" cy="198.93" r="1.45" fill="none" stroke="#262626" stroke-width="0.85"/>
<circle cx="373.4" cy="198.93" r="1.45" fill="none" stroke="#262626" stroke-width="0.85"/>
<circle cx="371.4" cy="213.48" r="1.45" fill="none" stroke="#262626" stroke-width="0.85"/>
<polygon points="387.3,196.08 389.11,199.27 385.49,199.27" fill="none" stroke="#262626" stroke-width="0.85"/>
<polygon points="390.3,197.05 392.11,200.24 388.49,200.24" fill="none" stroke="#262626" stroke-width="0.85"/>
<polygon points="388.8,203.84 390.61,207.03 386.99,207.03" fill="none" stroke="#262626" stroke-width="0.85"/>
<line x1="353.3" y1="177.2" x2="387.4" y2="177.2" stroke="#231f20" stroke-width="0.9"/>
<line x1="353.3" y1="176" x2="353.3" y2="178.4" stroke="#231f20" stroke-width="0.8"/>
<line x1="387.4" y1="176" x2="387.4" y2="178.4" stroke="#231f20" stroke-width="0.8"/>
<circle cx="364.65" cy="171.5" r="1.05" fill="#231f20"/>
<circle cx="368.45" cy="171.5" r="1.05" fill="#231f20"/>
<circle cx="372.25" cy="171.5" r="1.05" fill="#231f20"/>
<circle cx="376.05" cy="171.5" r="1.05" fill="#231f20"/>
<line x1="351.4" y1="187.3" x2="369" y2="187.3" stroke="#231f20" stroke-width="0.9"/>
<line x1="351.4" y1="186.1" x2="351.4" y2="188.5" stroke="#231f20" stroke-width="0.8"/>
<line x1="369" y1="186.1" x2="369" y2="188.5" stroke="#231f20" stroke-width="0.8"/>
<circle cx="356.45" cy="181.8" r="1.05" fill="#231f20"/>
<circle cx="360.2" cy="181.8" r="1.05" fill="#231f20"/>
<circle cx="363.95" cy="181.8" r="1.05" fill="#231f20"/>
<text x="-207.7" y="318.49" font-size="8.6" text-anchor="middle" textLength="66" lengthAdjust="spacingAndGlyphs" transform="rotate(-90)">Donor LSK cells (x10<tspan font-size="4.5" dy="-2.4">4</tspan><tspan dy="2.4">)</tspan></text>
<line x1="453.5" y1="177.03" x2="453.5" y2="239.27" stroke="#231f20" stroke-width="1"/>
<line x1="450.9" y1="238.82" x2="453.5" y2="238.82" stroke="#231f20" stroke-width="0.9"/>
<text x="448" y="240.82" font-size="6.3" text-anchor="end">−0.05</text>
<line x1="450.9" y1="224.18" x2="453.5" y2="224.18" stroke="#231f20" stroke-width="0.9"/>
<text x="448" y="226.18" font-size="6.3" text-anchor="end">0.05</text>
<line x1="450.9" y1="209.53" x2="453.5" y2="209.53" stroke="#231f20" stroke-width="0.9"/>
<text x="448" y="211.53" font-size="6.3" text-anchor="end">0.15</text>
<line x1="450.9" y1="194.88" x2="453.5" y2="194.88" stroke="#231f20" stroke-width="0.9"/>
<text x="448" y="196.88" font-size="6.3" text-anchor="end">0.25</text>
<line x1="450.9" y1="180.22" x2="453.5" y2="180.22" stroke="#231f20" stroke-width="0.9"/>
<text x="448" y="182.22" font-size="6.3" text-anchor="end">0.35</text>
<line x1="453" y1="238.82" x2="510.6" y2="238.82" stroke="#231f20" stroke-width="1"/>
<line x1="453.5" y1="231.5" x2="510.6" y2="231.5" stroke="#231f20" stroke-width="0.9"/>
<line x1="482.5" y1="238.82" x2="482.5" y2="241.22" stroke="#231f20" stroke-width="0.8"/>
<text x="470.6" y="158.8" font-size="8.5" text-anchor="middle">BM</text>
<line x1="482.5" y1="208.5" x2="482.5" y2="197.07" stroke="#333" stroke-width="0.8"/>
<line x1="479.48" y1="197.07" x2="485.52" y2="197.07" stroke="#333" stroke-width="0.9"/>
<rect x="477.2" y="208.5" width="10.6" height="23" fill="#26a9e2" stroke="#1f8fc4" stroke-width="0.5"/>
<line x1="499.6" y1="213.04" x2="499.6" y2="208.35" stroke="#333" stroke-width="0.8"/>
<line x1="496.58" y1="208.35" x2="502.62" y2="208.35" stroke="#333" stroke-width="0.9"/>
<rect x="494.3" y="213.04" width="10.6" height="18.46" fill="#c60a27" stroke="#9e0c24" stroke-width="0.5"/>
<polygon points="459.9,230.18 461.22,231.5 459.9,232.82 458.58,231.5" fill="#222" stroke="#222" stroke-width="0.85"/>
<polygon points="463.3,230.18 464.62,231.5 463.3,232.82 461.98,231.5" fill="#222" stroke="#222" stroke-width="0.85"/>
<polygon points="466.7,230.18 468.02,231.5 466.7,232.82 465.38,231.5" fill="#222" stroke="#222" stroke-width="0.85"/>
<polygon points="470.1,230.18 471.42,231.5 470.1,232.82 468.78,231.5" fill="#222" stroke="#222" stroke-width="0.85"/>
<line x1="458.7" y1="231.5" x2="471.3" y2="231.5" stroke="#222" stroke-width="0.7"/>
<circle cx="482.5" cy="194.14" r="1.45" fill="none" stroke="#262626" stroke-width="0.85"/>
<circle cx="481.5" cy="206.59" r="1.45" fill="none" stroke="#262626" stroke-width="0.85"/>
<circle cx="484.5" cy="208.06" r="1.45" fill="none" stroke="#262626" stroke-width="0.85"/>
<circle cx="482.5" cy="219.78" r="1.45" fill="none" stroke="#262626" stroke-width="0.85"/>
<polygon points="499.6,206.47 501.41,209.66 497.79,209.66" fill="none" stroke="#262626" stroke-width="0.85"/>
<polygon points="498.1,210.57 499.91,213.76 496.29,213.76" fill="none" stroke="#262626" stroke-width="0.85"/>
<polygon points="501.1,212.04 502.91,215.23 499.29,215.23" fill="none" stroke="#262626" stroke-width="0.85"/>
<polygon points="499.6,214.97 501.41,218.16 497.79,218.16" fill="none" stroke="#262626" stroke-width="0.85"/>
<line x1="464" y1="178.8" x2="497.7" y2="178.8" stroke="#231f20" stroke-width="0.9"/>
<line x1="464" y1="177.6" x2="464" y2="180" stroke="#231f20" stroke-width="0.8"/>
<line x1="497.7" y1="177.6" x2="497.7" y2="180" stroke="#231f20" stroke-width="0.8"/>
<circle cx="476.55" cy="173.1" r="1.2" fill="#231f20"/>
<circle cx="480.85" cy="173.1" r="1.2" fill="#231f20"/>
<circle cx="485.15" cy="173.1" r="1.2" fill="#231f20"/>
<line x1="464" y1="188.8" x2="481.3" y2="188.8" stroke="#231f20" stroke-width="0.9"/>
<line x1="464" y1="187.6" x2="464" y2="190" stroke="#231f20" stroke-width="0.8"/>
<line x1="481.3" y1="187.6" x2="481.3" y2="190" stroke="#231f20" stroke-width="0.8"/>
<circle cx="470.5" cy="183.1" r="1.2" fill="#231f20"/>
<circle cx="474.8" cy="183.1" r="1.2" fill="#231f20"/>
<text x="-207.9" y="417.14" font-size="8.6" text-anchor="middle" textLength="39.8" lengthAdjust="spacingAndGlyphs" transform="rotate(-90)">Donor STHSC</text>
<text x="-207.9" y="427.79" font-size="8.6" text-anchor="middle" textLength="34" lengthAdjust="spacingAndGlyphs" transform="rotate(-90)">cells (x10<tspan font-size="4.5" dy="-2.4">4</tspan><tspan dy="2.4">)</tspan></text>
<polygon points="368,246.7 369.8,248.5 368,250.3 366.2,248.5" fill="none" stroke="#2a2a2a" stroke-width="0.8"/>
<text x="372.8" y="250.8" font-size="6.7" textLength="113.6" lengthAdjust="spacingAndGlyphs">Isotype-ADC (0.5 mg/kg) + Anti-CD40L</text>
<circle cx="368" cy="258.7" r="1.5" fill="none" stroke="#2a2a2a" stroke-width="0.8"/>
<text x="372.8" y="261" font-size="6.7" textLength="109" lengthAdjust="spacingAndGlyphs">CD45-ADC (0.5 mg/kg) + Anti-CD40L</text>
<polygon points="368,267.25 369.88,270.55 366.12,270.55" fill="none" stroke="#2a2a2a" stroke-width="0.8"/>
<text x="372.8" y="271.5" font-size="6.7" textLength="109" lengthAdjust="spacingAndGlyphs">CD45-ADC (1.5 mg/kg) + Anti-CD40L</text>
<text x="7.1" y="298.2" font-size="11.9" font-weight="bold" fill="#000" style="stroke-width:0.35px;fill:#000;stroke:#000">G</text>
<line x1="46.1" y1="308.33" x2="46.1" y2="372.82" stroke="#231f20" stroke-width="1"/>
<line x1="43.5" y1="372.37" x2="46.1" y2="372.37" stroke="#231f20" stroke-width="0.9"/>
<text x="40.6" y="374.37" font-size="6.3" text-anchor="end">−10</text>
<line x1="43.5" y1="362.23" x2="46.1" y2="362.23" stroke="#231f20" stroke-width="0.9"/>
<text x="40.6" y="364.23" font-size="6.3" text-anchor="end">10</text>
<line x1="43.5" y1="352.09" x2="46.1" y2="352.09" stroke="#231f20" stroke-width="0.9"/>
<text x="40.6" y="354.09" font-size="6.3" text-anchor="end">30</text>
<line x1="43.5" y1="341.95" x2="46.1" y2="341.95" stroke="#231f20" stroke-width="0.9"/>
<text x="40.6" y="343.95" font-size="6.3" text-anchor="end">50</text>
<line x1="43.5" y1="331.81" x2="46.1" y2="331.81" stroke="#231f20" stroke-width="0.9"/>
<text x="40.6" y="333.81" font-size="6.3" text-anchor="end">70</text>
<line x1="43.5" y1="321.67" x2="46.1" y2="321.67" stroke="#231f20" stroke-width="0.9"/>
<text x="40.6" y="323.67" font-size="6.3" text-anchor="end">90</text>
<line x1="43.5" y1="311.53" x2="46.1" y2="311.53" stroke="#231f20" stroke-width="0.9"/>
<text x="40.6" y="313.53" font-size="6.3" text-anchor="end">110</text>
<line x1="45.6" y1="372.37" x2="124" y2="372.37" stroke="#231f20" stroke-width="1"/>
<line x1="46.1" y1="367.3" x2="124" y2="367.3" stroke="#231f20" stroke-width="0.9"/>
<line x1="85.5" y1="372.37" x2="85.5" y2="374.77" stroke="#231f20" stroke-width="0.8"/>
<text x="85.4" y="299" font-size="8.5" text-anchor="middle">5 weeks</text>
<line x1="56.3" y1="362.23" x2="56.3" y2="351.58" stroke="#333" stroke-width="0.8"/>
<line x1="53.8" y1="351.58" x2="58.8" y2="351.58" stroke="#333" stroke-width="0.9"/>
<rect x="51.9" y="362.23" width="8.8" height="5.07" fill="#f7981d" stroke="#d98a10" stroke-width="0.5"/>
<line x1="70.9" y1="354.12" x2="70.9" y2="335.87" stroke="#333" stroke-width="0.8"/>
<line x1="68.4" y1="335.87" x2="73.4" y2="335.87" stroke="#333" stroke-width="0.9"/>
<rect x="66.5" y="354.12" width="8.8" height="13.18" fill="#afc786" stroke="#8aa866" stroke-width="0.5"/>
<line x1="85.6" y1="339.42" x2="85.6" y2="322.68" stroke="#333" stroke-width="0.8"/>
<line x1="83.1" y1="322.68" x2="88.1" y2="322.68" stroke="#333" stroke-width="0.9"/>
<rect x="81.2" y="339.42" width="8.8" height="27.88" fill="#5e2370" stroke="#45194f" stroke-width="0.5"/>
<line x1="100.2" y1="325.73" x2="100.2" y2="323.19" stroke="#333" stroke-width="0.8"/>
<line x1="97.7" y1="323.19" x2="102.7" y2="323.19" stroke="#333" stroke-width="0.9"/>
<rect x="95.8" y="325.73" width="8.8" height="41.57" fill="#26a9e2" stroke="#1f8fc4" stroke-width="0.5"/>
<line x1="114.7" y1="325.73" x2="114.7" y2="322.68" stroke="#333" stroke-width="0.8"/>
<line x1="112.2" y1="322.68" x2="117.2" y2="322.68" stroke="#333" stroke-width="0.9"/>
<rect x="110.3" y="325.73" width="8.8" height="41.57" fill="#c60a27" stroke="#9e0c24" stroke-width="0.5"/>
<polygon points="56.3,343.38 57.67,340.96 54.92,340.96" fill="#1e1e1e" stroke="#1e1e1e" stroke-width="0.85"/>
<polygon points="53.3,368.22 54.67,365.8 51.92,365.8" fill="#1e1e1e" stroke="#1e1e1e" stroke-width="0.85"/>
<polygon points="56.3,368.22 57.67,365.8 54.92,365.8" fill="#1e1e1e" stroke="#1e1e1e" stroke-width="0.85"/>
<polygon points="59.3,368.22 60.67,365.8 57.92,365.8" fill="#1e1e1e" stroke="#1e1e1e" stroke-width="0.85"/>
<rect x="68.4" y="333.85" width="2" height="2" fill="none" stroke="#262626" stroke-width="0.85"/>
<rect x="71.4" y="334.36" width="2" height="2" fill="none" stroke="#262626" stroke-width="0.85"/>
<rect x="66.9" y="365.79" width="2" height="2" fill="none" stroke="#262626" stroke-width="0.85"/>
<rect x="69.9" y="365.79" width="2" height="2" fill="none" stroke="#262626" stroke-width="0.85"/>
<rect x="72.9" y="365.79" width="2" height="2" fill="none" stroke="#262626" stroke-width="0.85"/>
<polygon points="81.1,329.6 82.3,330.8 81.1,332 79.9,330.8" fill="none" stroke="#262626" stroke-width="0.85"/>
<polygon points="90.1,329.6 91.3,330.8 90.1,332 88.9,330.8" fill="none" stroke="#262626" stroke-width="0.85"/>
<polygon points="85.6,323.51 86.8,324.71 85.6,325.91 84.4,324.71" fill="none" stroke="#262626" stroke-width="0.85"/>
<polygon points="85.6,338.22 86.8,339.42 85.6,340.62 84.4,339.42" fill="none" stroke="#262626" stroke-width="0.85"/>
<circle cx="100.2" cy="323.19" r="1.45" fill="none" stroke="#262626" stroke-width="0.85"/>
<circle cx="97.2" cy="325.73" r="1.45" fill="none" stroke="#262626" stroke-width="0.85"/>
<circle cx="100.2" cy="326.74" r="1.45" fill="none" stroke="#262626" stroke-width="0.85"/>
<circle cx="103.2" cy="326.74" r="1.45" fill="none" stroke="#262626" stroke-width="0.85"/>
<polygon points="114.7,319.79 116.51,322.98 112.89,322.98" fill="none" stroke="#262626" stroke-width="0.85"/>
<polygon points="111.7,322.83 113.51,326.02 109.89,326.02" fill="none" stroke="#262626" stroke-width="0.85"/>
<polygon points="114.7,323.84 116.51,327.03 112.89,327.03" fill="none" stroke="#262626" stroke-width="0.85"/>
<polygon points="117.7,323.84 119.51,327.03 115.89,327.03" fill="none" stroke="#262626" stroke-width="0.85"/>
<line x1="56.4" y1="319.7" x2="85" y2="319.7" stroke="#231f20" stroke-width="0.9"/>
<line x1="56.4" y1="318.5" x2="56.4" y2="320.9" stroke="#231f20" stroke-width="0.8"/>
<line x1="85" y1="318.5" x2="85" y2="320.9" stroke="#231f20" stroke-width="0.8"/>
<circle cx="70.7" cy="314.7" r="1.2" fill="#231f20"/>
<line x1="71.3" y1="309.8" x2="99.4" y2="309.8" stroke="#231f20" stroke-width="0.9"/>
<line x1="71.3" y1="308.6" x2="71.3" y2="311" stroke="#231f20" stroke-width="0.8"/>
<line x1="99.4" y1="308.6" x2="99.4" y2="311" stroke="#231f20" stroke-width="0.8"/>
<circle cx="82.85" cy="305.3" r="1.2" fill="#231f20"/>
<circle cx="87.85" cy="305.3" r="1.2" fill="#231f20"/>
<text x="-340.4" y="14.79" font-size="8.6" text-anchor="middle" textLength="58.7" lengthAdjust="spacingAndGlyphs" transform="rotate(-90)">% Donor chimerism</text>
<text x="-340.3" y="24.39" font-size="8.6" text-anchor="middle" textLength="26.6" lengthAdjust="spacingAndGlyphs" transform="rotate(-90)">(H2Kd<tspan font-size="5" dy="-3.0">+</tspan><tspan dy="3.0">)</tspan></text>
<polygon points="46.8,383.55 48.67,380.25 44.92,380.25" fill="none" stroke="#2a2a2a" stroke-width="0.8"/>
<text x="50.8" y="383.9" font-size="6.7" textLength="72.6" lengthAdjust="spacingAndGlyphs">Isotype-ADC (0.5 mg/kg)</text>
<text x="52.2" y="392.4" font-size="6.7" textLength="41.3" lengthAdjust="spacingAndGlyphs">+ Anti-CD40L</text>
<rect x="45.3" y="398.1" width="3" height="3" fill="none" stroke="#2a2a2a" stroke-width="0.8"/>
<text x="50.8" y="401.9" font-size="6.7" textLength="67.3" lengthAdjust="spacingAndGlyphs">CD45-ADC (0.5 mg/kg)</text>
<polygon points="46.8,408 48.6,409.8 46.8,411.6 45,409.8" fill="none" stroke="#2a2a2a" stroke-width="0.8"/>
<text x="50.8" y="412.1" font-size="6.7" textLength="67.3" lengthAdjust="spacingAndGlyphs">CD45-ADC (0.5 mg/kg)</text>
<text x="52.2" y="419.9" font-size="6.7" textLength="41.3" lengthAdjust="spacingAndGlyphs">+ Anti-CD40L</text>
<line x1="150" y1="308.43" x2="150" y2="372.92" stroke="#231f20" stroke-width="1"/>
<line x1="147.4" y1="372.47" x2="150" y2="372.47" stroke="#231f20" stroke-width="0.9"/>
<text x="144.5" y="374.47" font-size="6.3" text-anchor="end">−10</text>
<line x1="147.4" y1="362.33" x2="150" y2="362.33" stroke="#231f20" stroke-width="0.9"/>
<text x="144.5" y="364.33" font-size="6.3" text-anchor="end">10</text>
<line x1="147.4" y1="352.19" x2="150" y2="352.19" stroke="#231f20" stroke-width="0.9"/>
<text x="144.5" y="354.19" font-size="6.3" text-anchor="end">30</text>
<line x1="147.4" y1="342.05" x2="150" y2="342.05" stroke="#231f20" stroke-width="0.9"/>
<text x="144.5" y="344.05" font-size="6.3" text-anchor="end">50</text>
<line x1="147.4" y1="331.91" x2="150" y2="331.91" stroke="#231f20" stroke-width="0.9"/>
<text x="144.5" y="333.91" font-size="6.3" text-anchor="end">70</text>
<line x1="147.4" y1="321.77" x2="150" y2="321.77" stroke="#231f20" stroke-width="0.9"/>
<text x="144.5" y="323.77" font-size="6.3" text-anchor="end">90</text>
<line x1="147.4" y1="311.63" x2="150" y2="311.63" stroke="#231f20" stroke-width="0.9"/>
<text x="144.5" y="313.63" font-size="6.3" text-anchor="end">110</text>
<line x1="149.5" y1="372.47" x2="226.7" y2="372.47" stroke="#231f20" stroke-width="1"/>
<line x1="150" y1="367.4" x2="226.7" y2="367.4" stroke="#231f20" stroke-width="0.9"/>
<line x1="188.6" y1="372.47" x2="188.6" y2="374.87" stroke="#231f20" stroke-width="0.8"/>
<text x="188.75" y="299" font-size="8.5" text-anchor="middle">15 weeks</text>
<line x1="174.6" y1="354.22" x2="174.6" y2="335.97" stroke="#333" stroke-width="0.8"/>
<line x1="172.1" y1="335.97" x2="177.1" y2="335.97" stroke="#333" stroke-width="0.9"/>
<rect x="170.2" y="354.22" width="8.8" height="13.18" fill="#afc786" stroke="#8aa866" stroke-width="0.5"/>
<line x1="188.9" y1="347.12" x2="188.9" y2="327.85" stroke="#333" stroke-width="0.8"/>
<line x1="186.4" y1="327.85" x2="191.4" y2="327.85" stroke="#333" stroke-width="0.9"/>
<rect x="184.5" y="347.12" width="8.8" height="20.28" fill="#5e2370" stroke="#45194f" stroke-width="0.5"/>
<line x1="203.2" y1="325.83" x2="203.2" y2="325.32" stroke="#333" stroke-width="0.8"/>
<line x1="200.7" y1="325.32" x2="205.7" y2="325.32" stroke="#333" stroke-width="0.9"/>
<rect x="198.8" y="325.83" width="8.8" height="41.57" fill="#26a9e2" stroke="#1f8fc4" stroke-width="0.5"/>
<line x1="217.5" y1="331.4" x2="217.5" y2="327.85" stroke="#333" stroke-width="0.8"/>
<line x1="215" y1="327.85" x2="220" y2="327.85" stroke="#333" stroke-width="0.9"/>
<rect x="213.1" y="331.4" width="8.8" height="36" fill="#c60a27" stroke="#9e0c24" stroke-width="0.5"/>
<polygon points="157.1,368.58 158.48,366.16 155.73,366.16" fill="#1e1e1e" stroke="#1e1e1e" stroke-width="0.85"/>
<polygon points="160.3,368.58 161.68,366.16 158.93,366.16" fill="#1e1e1e" stroke="#1e1e1e" stroke-width="0.85"/>
<polygon points="163.5,368.58 164.88,366.16 162.12,366.16" fill="#1e1e1e" stroke="#1e1e1e" stroke-width="0.85"/>
<rect x="173.6" y="330.91" width="2" height="2" fill="none" stroke="#262626" stroke-width="0.85"/>
<rect x="170.6" y="365.89" width="2" height="2" fill="none" stroke="#262626" stroke-width="0.85"/>
<rect x="173.6" y="365.89" width="2" height="2" fill="none" stroke="#262626" stroke-width="0.85"/>
<rect x="176.6" y="365.89" width="2" height="2" fill="none" stroke="#262626" stroke-width="0.85"/>
<polygon points="188.9,324.95 190.71,328.14 187.09,328.14" fill="none" stroke="#262626" stroke-width="0.85"/>
<polygon points="188.9,329.01 190.71,332.2 187.09,332.2" fill="none" stroke="#262626" stroke-width="0.85"/>
<polygon points="188.9,345.24 190.71,348.43 187.09,348.43" fill="none" stroke="#262626" stroke-width="0.85"/>
<circle cx="206.2" cy="325.32" r="1.45" fill="none" stroke="#262626" stroke-width="0.85"/>
<circle cx="200.2" cy="326.84" r="1.45" fill="none" stroke="#262626" stroke-width="0.85"/>
<circle cx="203.2" cy="327.85" r="1.45" fill="none" stroke="#262626" stroke-width="0.85"/>
<circle cx="205.2" cy="328.36" r="1.45" fill="none" stroke="#262626" stroke-width="0.85"/>
<polygon points="217.5,322.93 219.31,326.12 215.69,326.12" fill="none" stroke="#262626" stroke-width="0.85"/>
<polygon points="215.5,327.49 217.31,330.68 213.69,330.68" fill="none" stroke="#262626" stroke-width="0.85"/>
<polygon points="219.5,330.02 221.31,333.21 217.69,333.21" fill="none" stroke="#262626" stroke-width="0.85"/>
<polygon points="217.5,332.05 219.31,335.24 215.69,335.24" fill="none" stroke="#262626" stroke-width="0.85"/>
<line x1="173.75" y1="309.5" x2="202.5" y2="309.5" stroke="#231f20" stroke-width="0.9"/>
<line x1="173.75" y1="308.3" x2="173.75" y2="310.7" stroke="#231f20" stroke-width="0.8"/>
<line x1="202.5" y1="308.3" x2="202.5" y2="310.7" stroke="#231f20" stroke-width="0.8"/>
<circle cx="188.12" cy="305" r="1.2" fill="#231f20"/>
<circle cx="184" cy="381.6" r="1.5" fill="none" stroke="#2a2a2a" stroke-width="0.8"/>
<text x="188.3" y="383.9" font-size="6.7" textLength="67.7" lengthAdjust="spacingAndGlyphs">CD45-ADC (1.5 mg/kg)</text>
<polygon points="184,389.85 185.88,393.15 182.12,393.15" fill="none" stroke="#2a2a2a" stroke-width="0.8"/>
<text x="188.3" y="394.1" font-size="6.7" textLength="111" lengthAdjust="spacingAndGlyphs">CD45-ADC (1.5 mg/kg) + Anti-CD40L</text>
<line x1="252.5" y1="308.43" x2="252.5" y2="372.92" stroke="#231f20" stroke-width="1"/>
<line x1="249.9" y1="372.47" x2="252.5" y2="372.47" stroke="#231f20" stroke-width="0.9"/>
<text x="247" y="374.47" font-size="6.3" text-anchor="end">−10</text>
<line x1="249.9" y1="362.33" x2="252.5" y2="362.33" stroke="#231f20" stroke-width="0.9"/>
<text x="247" y="364.33" font-size="6.3" text-anchor="end">10</text>
<line x1="249.9" y1="352.19" x2="252.5" y2="352.19" stroke="#231f20" stroke-width="0.9"/>
<text x="247" y="354.19" font-size="6.3" text-anchor="end">30</text>
<line x1="249.9" y1="342.05" x2="252.5" y2="342.05" stroke="#231f20" stroke-width="0.9"/>
<text x="247" y="344.05" font-size="6.3" text-anchor="end">50</text>
<line x1="249.9" y1="331.91" x2="252.5" y2="331.91" stroke="#231f20" stroke-width="0.9"/>
<text x="247" y="333.91" font-size="6.3" text-anchor="end">70</text>
<line x1="249.9" y1="321.77" x2="252.5" y2="321.77" stroke="#231f20" stroke-width="0.9"/>
<text x="247" y="323.77" font-size="6.3" text-anchor="end">90</text>
<line x1="249.9" y1="311.63" x2="252.5" y2="311.63" stroke="#231f20" stroke-width="0.9"/>
<text x="247" y="313.63" font-size="6.3" text-anchor="end">110</text>
<line x1="252" y1="372.47" x2="329" y2="372.47" stroke="#231f20" stroke-width="1"/>
<line x1="252.5" y1="367.4" x2="329" y2="367.4" stroke="#231f20" stroke-width="0.9"/>
<line x1="291.1" y1="372.47" x2="291.1" y2="374.87" stroke="#231f20" stroke-width="0.8"/>
<text x="290.6" y="299" font-size="8.5" text-anchor="middle">25 weeks</text>
<line x1="276.9" y1="356.25" x2="276.9" y2="341.04" stroke="#333" stroke-width="0.8"/>
<line x1="274.4" y1="341.04" x2="279.4" y2="341.04" stroke="#333" stroke-width="0.9"/>
<rect x="272.5" y="356.25" width="8.8" height="11.15" fill="#afc786" stroke="#8aa866" stroke-width="0.5"/>
<line x1="291.1" y1="344.58" x2="291.1" y2="324.81" stroke="#333" stroke-width="0.8"/>
<line x1="288.6" y1="324.81" x2="293.6" y2="324.81" stroke="#333" stroke-width="0.9"/>
<rect x="286.7" y="344.58" width="8.8" height="22.81" fill="#5e2370" stroke="#45194f" stroke-width="0.5"/>
<line x1="305.1" y1="332.92" x2="305.1" y2="330.9" stroke="#333" stroke-width="0.8"/>
<line x1="302.6" y1="330.9" x2="307.6" y2="330.9" stroke="#333" stroke-width="0.9"/>
<rect x="300.7" y="332.92" width="8.8" height="34.48" fill="#26a9e2" stroke="#1f8fc4" stroke-width="0.5"/>
<line x1="319.4" y1="326.84" x2="319.4" y2="325.83" stroke="#333" stroke-width="0.8"/>
<line x1="316.9" y1="325.83" x2="321.9" y2="325.83" stroke="#333" stroke-width="0.9"/>
<rect x="315" y="326.84" width="8.8" height="40.56" fill="#c60a27" stroke="#9e0c24" stroke-width="0.5"/>
<polygon points="259.6,368.32 260.98,365.9 258.23,365.9" fill="#1e1e1e" stroke="#1e1e1e" stroke-width="0.85"/>
<polygon points="262.8,368.32 264.18,365.9 261.43,365.9" fill="#1e1e1e" stroke="#1e1e1e" stroke-width="0.85"/>
<polygon points="266,368.32 267.38,365.9 264.62,365.9" fill="#1e1e1e" stroke="#1e1e1e" stroke-width="0.85"/>
<rect x="275.9" y="331.92" width="2" height="2" fill="none" stroke="#262626" stroke-width="0.85"/>
<rect x="275.9" y="345.11" width="2" height="2" fill="none" stroke="#262626" stroke-width="0.85"/>
<rect x="273.9" y="365.89" width="2" height="2" fill="none" stroke="#262626" stroke-width="0.85"/>
<rect x="277.9" y="365.89" width="2" height="2" fill="none" stroke="#262626" stroke-width="0.85"/>
<polygon points="287.1,329.7 288.3,330.9 287.1,332.1 285.9,330.9" fill="none" stroke="#262626" stroke-width="0.85"/>
<polygon points="295.1,329.7 296.3,330.9 295.1,332.1 293.9,330.9" fill="none" stroke="#262626" stroke-width="0.85"/>
<circle cx="302.1" cy="330.9" r="1.45" fill="none" stroke="#262626" stroke-width="0.85"/>
<circle cx="308.1" cy="331.91" r="1.45" fill="none" stroke="#262626" stroke-width="0.85"/>
<circle cx="305.1" cy="331.91" r="1.45" fill="none" stroke="#262626" stroke-width="0.85"/>
<circle cx="305.1" cy="332.92" r="1.45" fill="none" stroke="#262626" stroke-width="0.85"/>
<polygon points="316.4,324.45 318.21,327.64 314.59,327.64" fill="none" stroke="#262626" stroke-width="0.85"/>
<polygon points="319.4,324.95 321.21,328.14 317.59,328.14" fill="none" stroke="#262626" stroke-width="0.85"/>
<polygon points="322.4,324.95 324.21,328.14 320.59,328.14" fill="none" stroke="#262626" stroke-width="0.85"/>
<line x1="276.25" y1="320" x2="304.5" y2="320" stroke="#231f20" stroke-width="0.9"/>
<line x1="276.25" y1="318.8" x2="276.25" y2="321.2" stroke="#231f20" stroke-width="0.8"/>
<line x1="304.5" y1="318.8" x2="304.5" y2="321.2" stroke="#231f20" stroke-width="0.8"/>
<circle cx="290.38" cy="315.5" r="1.2" fill="#231f20"/>
<line x1="304.6" y1="313.3" x2="320.2" y2="313.3" stroke="#231f20" stroke-width="0.9"/>
<line x1="304.6" y1="312.1" x2="304.6" y2="314.5" stroke="#231f20" stroke-width="0.8"/>
<line x1="320.2" y1="312.1" x2="320.2" y2="314.5" stroke="#231f20" stroke-width="0.8"/>
<circle cx="310.1" cy="307" r="1.2" fill="#231f20"/>
<circle cx="314.7" cy="307" r="1.2" fill="#231f20"/>
<text x="344" y="297.7" font-size="11.9" font-weight="bold" fill="#000" style="stroke-width:0.35px;fill:#000;stroke:#000">H</text>
<line x1="386.9" y1="306.03" x2="386.9" y2="372.92" stroke="#231f20" stroke-width="1"/>
<line x1="384.3" y1="372.47" x2="386.9" y2="372.47" stroke="#231f20" stroke-width="0.9"/>
<text x="381.4" y="374.47" font-size="6.3" text-anchor="end">−10</text>
<line x1="384.3" y1="361.93" x2="386.9" y2="361.93" stroke="#231f20" stroke-width="0.9"/>
<text x="381.4" y="363.93" font-size="6.3" text-anchor="end">10</text>
<line x1="384.3" y1="351.39" x2="386.9" y2="351.39" stroke="#231f20" stroke-width="0.9"/>
<text x="381.4" y="353.39" font-size="6.3" text-anchor="end">30</text>
<line x1="384.3" y1="340.85" x2="386.9" y2="340.85" stroke="#231f20" stroke-width="0.9"/>
<text x="381.4" y="342.85" font-size="6.3" text-anchor="end">50</text>
<line x1="384.3" y1="330.31" x2="386.9" y2="330.31" stroke="#231f20" stroke-width="0.9"/>
<text x="381.4" y="332.31" font-size="6.3" text-anchor="end">70</text>
<line x1="384.3" y1="319.77" x2="386.9" y2="319.77" stroke="#231f20" stroke-width="0.9"/>
<text x="381.4" y="321.77" font-size="6.3" text-anchor="end">90</text>
<line x1="384.3" y1="309.23" x2="386.9" y2="309.23" stroke="#231f20" stroke-width="0.9"/>
<text x="381.4" y="311.23" font-size="6.3" text-anchor="end">110</text>
<line x1="386.4" y1="372.47" x2="475" y2="372.47" stroke="#231f20" stroke-width="1"/>
<line x1="386.9" y1="367.2" x2="475" y2="367.2" stroke="#231f20" stroke-width="0.9"/>
<line x1="408.8" y1="372.47" x2="408.8" y2="374.87" stroke="#231f20" stroke-width="0.8"/>
<line x1="448.1" y1="372.47" x2="448.1" y2="374.87" stroke="#231f20" stroke-width="0.8"/>
<text x="424" y="299.5" font-size="8.5" text-anchor="middle">25 weeks</text>
<line x1="408.9" y1="318.4" x2="408.9" y2="314.71" stroke="#333" stroke-width="0.8"/>
<line x1="403.4" y1="314.71" x2="414.4" y2="314.71" stroke="#333" stroke-width="0.9"/>
<rect x="398.4" y="318.4" width="21" height="37.73" fill="#a7c17f"/>
<rect x="398.4" y="356.13" width="21" height="7.48" fill="#c60a27"/>
<rect x="398.4" y="363.62" width="21" height="3.58" fill="#26a9e2"/>
<line x1="403.4" y1="354.02" x2="414.4" y2="354.02" stroke="#333" stroke-width="0.9"/>
<line x1="408.9" y1="356.13" x2="408.9" y2="354.02" stroke="#333" stroke-width="0.8"/>
<line x1="403.4" y1="362.98" x2="414.4" y2="362.98" stroke="#333" stroke-width="0.9"/>
<line x1="408.9" y1="363.62" x2="408.9" y2="362.98" stroke="#333" stroke-width="0.8"/>
<line x1="448" y1="320.3" x2="448" y2="316.87" stroke="#333" stroke-width="0.8"/>
<line x1="442.5" y1="316.87" x2="453.5" y2="316.87" stroke="#333" stroke-width="0.9"/>
<rect x="437.5" y="320.3" width="21" height="25.82" fill="#a7c17f"/>
<rect x="437.5" y="346.12" width="21" height="7.9" fill="#c60a27"/>
<rect x="437.5" y="354.02" width="21" height="13.18" fill="#26a9e2"/>
<line x1="442.5" y1="344.54" x2="453.5" y2="344.54" stroke="#333" stroke-width="0.9"/>
<line x1="448" y1="346.12" x2="448" y2="344.54" stroke="#333" stroke-width="0.8"/>
<line x1="442.5" y1="352.97" x2="453.5" y2="352.97" stroke="#333" stroke-width="0.9"/>
<line x1="448" y1="354.02" x2="448" y2="352.97" stroke="#333" stroke-width="0.8"/>
<line x1="386.9" y1="367.2" x2="475" y2="367.2" stroke="#231f20" stroke-width="0.9"/>
<rect x="472.9" y="318.4" width="5.9" height="5.8" fill="#26a9e2"/>
<text x="481.6" y="323.5" font-size="6.3">CD3</text>
<rect x="472.9" y="336.9" width="5.9" height="5.8" fill="#c60a27"/>
<text x="481.6" y="342" font-size="6.3">B220</text>
<rect x="472.9" y="346.3" width="5.9" height="5.8" fill="#a7c17f"/>
<text x="481.6" y="351.4" font-size="6.3">CD11b</text>
<text x="481.6" y="331.4" font-size="6.1">(<tspan font-style="italic">P</tspan> &lt; .0001)</text>
<text x="481.6" y="359.8" font-size="6.1">(<tspan font-style="italic">P</tspan> = .0002)</text>
<text x="408.8" y="384.6" font-size="6.5" text-anchor="middle">CD45-ADC</text>
<text x="408.8" y="392.4" font-size="6.5" text-anchor="middle">(1.5 mg/kg)</text>
<text x="448.1" y="384.6" font-size="6.5" text-anchor="middle">CD45-ADC</text>
<text x="448.1" y="392.4" font-size="6.5" text-anchor="middle">(1.5 mg/kg)</text>
<text x="448.1" y="399.2" font-size="6.5" text-anchor="middle">+Anti-CD40L</text>
<text x="-339" y="353.99" font-size="8.6" text-anchor="middle" textLength="72.5" lengthAdjust="spacingAndGlyphs" transform="rotate(-90)">% Positive cells (H2Kd<tspan font-size="5" dy="-3.0">+</tspan><tspan dy="3.0">)</tspan></text>
<text x="-339.7" y="365.49" font-size="8.6" text-anchor="middle" textLength="54.4" lengthAdjust="spacingAndGlyphs" transform="rotate(-90)">donor cell subsets</text>
<text x="7.4" y="446.2" font-size="11.9" font-weight="bold" fill="#000" style="stroke-width:0.35px;fill:#000;stroke:#000">I</text>
<line x1="46.4" y1="475.77" x2="46.4" y2="539.78" stroke="#231f20" stroke-width="1"/>
<line x1="43.8" y1="539.33" x2="46.4" y2="539.33" stroke="#231f20" stroke-width="0.9"/>
<text x="40.9" y="541.33" font-size="6.3" text-anchor="end">−10</text>
<line x1="43.8" y1="529.27" x2="46.4" y2="529.27" stroke="#231f20" stroke-width="0.9"/>
<text x="40.9" y="531.27" font-size="6.3" text-anchor="end">10</text>
<line x1="43.8" y1="519.21" x2="46.4" y2="519.21" stroke="#231f20" stroke-width="0.9"/>
<text x="40.9" y="521.21" font-size="6.3" text-anchor="end">30</text>
<line x1="43.8" y1="509.15" x2="46.4" y2="509.15" stroke="#231f20" stroke-width="0.9"/>
<text x="40.9" y="511.15" font-size="6.3" text-anchor="end">50</text>
<line x1="43.8" y1="499.09" x2="46.4" y2="499.09" stroke="#231f20" stroke-width="0.9"/>
<text x="40.9" y="501.09" font-size="6.3" text-anchor="end">70</text>
<line x1="43.8" y1="489.03" x2="46.4" y2="489.03" stroke="#231f20" stroke-width="0.9"/>
<text x="40.9" y="491.03" font-size="6.3" text-anchor="end">90</text>
<line x1="43.8" y1="478.97" x2="46.4" y2="478.97" stroke="#231f20" stroke-width="0.9"/>
<text x="40.9" y="480.97" font-size="6.3" text-anchor="end">110</text>
<line x1="45.9" y1="539.33" x2="121.7" y2="539.33" stroke="#231f20" stroke-width="1"/>
<line x1="46.4" y1="534.3" x2="121.7" y2="534.3" stroke="#231f20" stroke-width="0.9"/>
<line x1="84.9" y1="539.33" x2="84.9" y2="541.73" stroke="#231f20" stroke-width="0.8"/>
<text x="85" y="446.8" font-size="8.5" text-anchor="middle">BM</text>
<line x1="70.2" y1="530.78" x2="70.2" y2="524.74" stroke="#333" stroke-width="0.8"/>
<line x1="67.7" y1="524.74" x2="72.7" y2="524.74" stroke="#333" stroke-width="0.9"/>
<rect x="65.85" y="530.78" width="8.7" height="3.52" fill="#afc786" stroke="#8aa866" stroke-width="0.5"/>
<line x1="84.5" y1="509.9" x2="84.5" y2="492.55" stroke="#333" stroke-width="0.8"/>
<line x1="82" y1="492.55" x2="87" y2="492.55" stroke="#333" stroke-width="0.9"/>
<rect x="80.15" y="509.9" width="8.7" height="24.4" fill="#f7981d" stroke="#d98a10" stroke-width="0.5"/>
<line x1="99" y1="490.29" x2="99" y2="489.78" stroke="#333" stroke-width="0.8"/>
<line x1="96.5" y1="489.78" x2="101.5" y2="489.78" stroke="#333" stroke-width="0.9"/>
<rect x="94.65" y="490.29" width="8.7" height="44.01" fill="#26a9e2" stroke="#1f8fc4" stroke-width="0.5"/>
<line x1="113.5" y1="491.54" x2="113.5" y2="491.04" stroke="#333" stroke-width="0.8"/>
<line x1="111" y1="491.04" x2="116" y2="491.04" stroke="#333" stroke-width="0.9"/>
<rect x="109.15" y="491.54" width="8.7" height="42.75" fill="#c60a27" stroke="#9e0c24" stroke-width="0.5"/>
<rect x="51.9" y="533.3" width="2" height="2" fill="none" stroke="#262626" stroke-width="0.85"/>
<rect x="54.9" y="533.3" width="2" height="2" fill="none" stroke="#262626" stroke-width="0.85"/>
<rect x="57.9" y="533.3" width="2" height="2" fill="none" stroke="#262626" stroke-width="0.85"/>
<circle cx="68.7" cy="524.74" r="1.45" fill="none" stroke="#262626" stroke-width="0.85"/>
<circle cx="71.7" cy="524.74" r="1.45" fill="none" stroke="#262626" stroke-width="0.85"/>
<circle cx="67.2" cy="534.3" r="1.45" fill="none" stroke="#262626" stroke-width="0.85"/>
<circle cx="70.2" cy="534.3" r="1.45" fill="none" stroke="#262626" stroke-width="0.85"/>
<circle cx="73.2" cy="534.3" r="1.45" fill="none" stroke="#262626" stroke-width="0.85"/>
<polygon points="84.5,487.65 86.31,490.84 82.69,490.84" fill="none" stroke="#262626" stroke-width="0.85"/>
<polygon points="81.5,521.1 83.31,524.29 79.69,524.29" fill="none" stroke="#262626" stroke-width="0.85"/>
<polygon points="84.5,521.1 86.31,524.29 82.69,524.29" fill="none" stroke="#262626" stroke-width="0.85"/>
<polygon points="87.5,521.1 89.31,524.29 85.69,524.29" fill="none" stroke="#262626" stroke-width="0.85"/>
<polygon points="84.5,494.11 86,491.47 83,491.47" fill="#262626" stroke="#262626" stroke-width="0.85"/>
<polygon points="96,491.92 97.81,488.73 94.19,488.73" fill="none" stroke="#262626" stroke-width="0.85"/>
<polygon points="99,492.42 100.81,489.23 97.19,489.23" fill="none" stroke="#262626" stroke-width="0.85"/>
<polygon points="102,492.42 103.81,489.23 100.19,489.23" fill="none" stroke="#262626" stroke-width="0.85"/>
<line x1="84.7" y1="464.6" x2="113.6" y2="464.6" stroke="#231f20" stroke-width="0.9"/>
<line x1="84.7" y1="463.4" x2="84.7" y2="465.8" stroke="#231f20" stroke-width="0.8"/>
<line x1="113.6" y1="463.4" x2="113.6" y2="465.8" stroke="#231f20" stroke-width="0.8"/>
<text x="99.25" y="461.8" font-size="6.6" text-anchor="middle"><tspan font-style="italic">P</tspan> = .055</text>
<line x1="70.6" y1="475.4" x2="99.6" y2="475.4" stroke="#231f20" stroke-width="0.9"/>
<line x1="70.6" y1="474.2" x2="70.6" y2="476.6" stroke="#231f20" stroke-width="0.8"/>
<line x1="99.6" y1="474.2" x2="99.6" y2="476.6" stroke="#231f20" stroke-width="0.8"/>
<circle cx="77.6" cy="471.2" r="1.2" fill="#231f20"/>
<circle cx="82.6" cy="471.2" r="1.2" fill="#231f20"/>
<circle cx="87.6" cy="471.2" r="1.2" fill="#231f20"/>
<circle cx="92.6" cy="471.2" r="1.2" fill="#231f20"/>
<line x1="69.8" y1="483.6" x2="84.7" y2="483.6" stroke="#231f20" stroke-width="0.9"/>
<line x1="69.8" y1="482.4" x2="69.8" y2="484.8" stroke="#231f20" stroke-width="0.8"/>
<line x1="84.7" y1="482.4" x2="84.7" y2="484.8" stroke="#231f20" stroke-width="0.8"/>
<circle cx="77.25" cy="479" r="1.2" fill="#231f20"/>
<text x="-507.3" y="14.89" font-size="8.6" text-anchor="middle" textLength="58.3" lengthAdjust="spacingAndGlyphs" transform="rotate(-90)">% Donor chimerism</text>
<text x="-507.5" y="24.39" font-size="8.6" text-anchor="middle" textLength="25.4" lengthAdjust="spacingAndGlyphs" transform="rotate(-90)">(H2Kd<tspan font-size="5" dy="-3.0">+</tspan><tspan dy="3.0">)</tspan></text>
<text x="138.4" y="446.2" font-size="11.9" font-weight="bold" fill="#000" style="stroke-width:0.35px;fill:#000;stroke:#000">J</text>
<line x1="174.5" y1="475.2" x2="174.5" y2="539.55" stroke="#231f20" stroke-width="1"/>
<line x1="171.9" y1="539.1" x2="174.5" y2="539.1" stroke="#231f20" stroke-width="0.9"/>
<text x="169" y="541.1" font-size="6.3" text-anchor="end">0</text>
<line x1="171.9" y1="526.96" x2="174.5" y2="526.96" stroke="#231f20" stroke-width="0.9"/>
<text x="169" y="528.96" font-size="6.3" text-anchor="end">10</text>
<line x1="171.9" y1="514.82" x2="174.5" y2="514.82" stroke="#231f20" stroke-width="0.9"/>
<text x="169" y="516.82" font-size="6.3" text-anchor="end">20</text>
<line x1="171.9" y1="502.68" x2="174.5" y2="502.68" stroke="#231f20" stroke-width="0.9"/>
<text x="169" y="504.68" font-size="6.3" text-anchor="end">30</text>
<line x1="171.9" y1="490.54" x2="174.5" y2="490.54" stroke="#231f20" stroke-width="0.9"/>
<text x="169" y="492.54" font-size="6.3" text-anchor="end">40</text>
<line x1="171.9" y1="478.4" x2="174.5" y2="478.4" stroke="#231f20" stroke-width="0.9"/>
<text x="169" y="480.4" font-size="6.3" text-anchor="end">50</text>
<line x1="174" y1="539.1" x2="251.7" y2="539.1" stroke="#231f20" stroke-width="1"/>
<line x1="213.3" y1="539.1" x2="213.3" y2="541.5" stroke="#231f20" stroke-width="0.8"/>
<text x="213.4" y="446.8" font-size="8.5" text-anchor="middle">Thymus</text>
<rect x="179.65" y="536.19" width="9.3" height="2.91" fill="#ffffff" stroke="#333" stroke-width="0.5"/>
<line x1="199.1" y1="533.39" x2="199.1" y2="526.96" stroke="#333" stroke-width="0.8"/>
<line x1="196.6" y1="526.96" x2="201.6" y2="526.96" stroke="#333" stroke-width="0.9"/>
<rect x="194.65" y="533.39" width="8.9" height="5.71" fill="#afc786" stroke="#8aa866" stroke-width="0.5"/>
<line x1="213.5" y1="514.21" x2="213.5" y2="497.22" stroke="#333" stroke-width="0.8"/>
<line x1="211" y1="497.22" x2="216" y2="497.22" stroke="#333" stroke-width="0.9"/>
<rect x="209.05" y="514.21" width="8.9" height="24.89" fill="#f7981d" stroke="#d98a10" stroke-width="0.5"/>
<line x1="227.9" y1="497.46" x2="227.9" y2="495.4" stroke="#333" stroke-width="0.8"/>
<line x1="225.4" y1="495.4" x2="230.4" y2="495.4" stroke="#333" stroke-width="0.9"/>
<rect x="223.45" y="497.46" width="8.9" height="41.64" fill="#26a9e2" stroke="#1f8fc4" stroke-width="0.5"/>
<line x1="242.3" y1="494.67" x2="242.3" y2="493.58" stroke="#333" stroke-width="0.8"/>
<line x1="239.8" y1="493.58" x2="244.8" y2="493.58" stroke="#333" stroke-width="0.9"/>
<rect x="237.85" y="494.67" width="8.9" height="44.43" fill="#c60a27" stroke="#9e0c24" stroke-width="0.5"/>
<rect x="181.9" y="536.62" width="1.8" height="1.8" fill="none" stroke="#262626" stroke-width="0.85"/>
<rect x="184.9" y="536.62" width="1.8" height="1.8" fill="none" stroke="#262626" stroke-width="0.85"/>
<circle cx="197.6" cy="526.96" r="1.45" fill="none" stroke="#262626" stroke-width="0.85"/>
<circle cx="200.6" cy="526.96" r="1.45" fill="none" stroke="#262626" stroke-width="0.85"/>
<circle cx="196.1" cy="536.67" r="1.45" fill="none" stroke="#262626" stroke-width="0.85"/>
<circle cx="199.1" cy="536.67" r="1.45" fill="none" stroke="#262626" stroke-width="0.85"/>
<circle cx="202.1" cy="536.67" r="1.45" fill="none" stroke="#262626" stroke-width="0.85"/>
<polygon points="213.5,492.3 215.31,495.49 211.69,495.49" fill="none" stroke="#262626" stroke-width="0.85"/>
<polygon points="210.5,525.68 212.31,528.87 208.69,528.87" fill="none" stroke="#262626" stroke-width="0.85"/>
<polygon points="213.5,525.68 215.31,528.87 211.69,528.87" fill="none" stroke="#262626" stroke-width="0.85"/>
<polygon points="216.5,525.68 218.31,528.87 214.69,528.87" fill="none" stroke="#262626" stroke-width="0.85"/>
<polygon points="213.5,498.78 215,496.14 212,496.14" fill="#262626" stroke="#262626" stroke-width="0.85"/>
<polygon points="226.9,491.84 228.64,493.58 226.9,495.32 225.16,493.58" fill="none" stroke="#262626" stroke-width="0.85"/>
<polygon points="230.4,492.44 232.14,494.18 230.4,495.92 228.66,494.18" fill="none" stroke="#262626" stroke-width="0.85"/>
<polygon points="224.9,496.08 226.64,497.82 224.9,499.56 223.16,497.82" fill="none" stroke="#262626" stroke-width="0.85"/>
<polygon points="229.9,496.08 231.64,497.82 229.9,499.56 228.16,497.82" fill="none" stroke="#262626" stroke-width="0.85"/>
<polygon points="239.3,496.07 241.11,492.88 237.49,492.88" fill="none" stroke="#262626" stroke-width="0.85"/>
<polygon points="242.3,496.07 244.11,492.88 240.49,492.88" fill="none" stroke="#262626" stroke-width="0.85"/>
<polygon points="245.3,496.67 247.11,493.48 243.49,493.48" fill="none" stroke="#262626" stroke-width="0.85"/>
<line x1="198.5" y1="469.2" x2="227.7" y2="469.2" stroke="#231f20" stroke-width="0.9"/>
<line x1="198.5" y1="468" x2="198.5" y2="470.4" stroke="#231f20" stroke-width="0.8"/>
<line x1="227.7" y1="468" x2="227.7" y2="470.4" stroke="#231f20" stroke-width="0.8"/>
<circle cx="205" cy="464.5" r="1.25" fill="#231f20"/>
<circle cx="210.4" cy="464.5" r="1.25" fill="#231f20"/>
<circle cx="215.8" cy="464.5" r="1.25" fill="#231f20"/>
<circle cx="221.2" cy="464.5" r="1.25" fill="#231f20"/>
<line x1="198.2" y1="477.2" x2="212.8" y2="477.2" stroke="#231f20" stroke-width="0.9"/>
<line x1="198.2" y1="476" x2="198.2" y2="478.4" stroke="#231f20" stroke-width="0.8"/>
<line x1="212.8" y1="476" x2="212.8" y2="478.4" stroke="#231f20" stroke-width="0.8"/>
<circle cx="205.5" cy="472.6" r="1.25" fill="#231f20"/>
<line x1="183.9" y1="488.5" x2="212.8" y2="488.5" stroke="#231f20" stroke-width="0.9"/>
<line x1="183.9" y1="487.3" x2="183.9" y2="489.7" stroke="#231f20" stroke-width="0.8"/>
<line x1="212.8" y1="487.3" x2="212.8" y2="489.7" stroke="#231f20" stroke-width="0.8"/>
<text x="198.35" y="486.1" font-size="6.6" text-anchor="middle"><tspan font-style="italic">P</tspan> = .06</text>
<line x1="213.8" y1="488.5" x2="243.5" y2="488.5" stroke="#231f20" stroke-width="0.9"/>
<line x1="213.8" y1="487.3" x2="213.8" y2="489.7" stroke="#231f20" stroke-width="0.8"/>
<line x1="243.5" y1="487.3" x2="243.5" y2="489.7" stroke="#231f20" stroke-width="0.8"/>
<circle cx="228.65" cy="483.6" r="1.25" fill="#231f20"/>
<text x="-506.8" y="146.19" font-size="8.6" text-anchor="middle" textLength="58.3" lengthAdjust="spacingAndGlyphs" transform="rotate(-90)">% Donor chimerism</text>
<text x="-507.2" y="155.74" font-size="8.6" text-anchor="middle" textLength="25.9" lengthAdjust="spacingAndGlyphs" transform="rotate(-90)">(H2Kd<tspan font-size="5" dy="-3.0">+</tspan><tspan dy="3.0">)</tspan></text>
<text x="267.4" y="446.2" font-size="11.9" font-weight="bold" fill="#000" style="stroke-width:0.35px;fill:#000;stroke:#000">K</text>
<line x1="303.6" y1="475.9" x2="303.6" y2="539.55" stroke="#231f20" stroke-width="1"/>
<line x1="301" y1="539.1" x2="303.6" y2="539.1" stroke="#231f20" stroke-width="0.9"/>
<text x="298.1" y="541.1" font-size="6.3" text-anchor="end">−10</text>
<line x1="301" y1="529.1" x2="303.6" y2="529.1" stroke="#231f20" stroke-width="0.9"/>
<text x="298.1" y="531.1" font-size="6.3" text-anchor="end">10</text>
<line x1="301" y1="519.1" x2="303.6" y2="519.1" stroke="#231f20" stroke-width="0.9"/>
<text x="298.1" y="521.1" font-size="6.3" text-anchor="end">30</text>
<line x1="301" y1="509.1" x2="303.6" y2="509.1" stroke="#231f20" stroke-width="0.9"/>
<text x="298.1" y="511.1" font-size="6.3" text-anchor="end">50</text>
<line x1="301" y1="499.1" x2="303.6" y2="499.1" stroke="#231f20" stroke-width="0.9"/>
<text x="298.1" y="501.1" font-size="6.3" text-anchor="end">70</text>
<line x1="301" y1="489.1" x2="303.6" y2="489.1" stroke="#231f20" stroke-width="0.9"/>
<text x="298.1" y="491.1" font-size="6.3" text-anchor="end">90</text>
<line x1="301" y1="479.1" x2="303.6" y2="479.1" stroke="#231f20" stroke-width="0.9"/>
<text x="298.1" y="481.1" font-size="6.3" text-anchor="end">110</text>
<line x1="303.1" y1="539.1" x2="380" y2="539.1" stroke="#231f20" stroke-width="1"/>
<line x1="303.6" y1="534.1" x2="380" y2="534.1" stroke="#231f20" stroke-width="0.9"/>
<line x1="341.7" y1="539.1" x2="341.7" y2="541.5" stroke="#231f20" stroke-width="0.8"/>
<text x="341.9" y="447.2" font-size="8.5" text-anchor="middle">Spleen</text>
<line x1="341.7" y1="515.1" x2="341.7" y2="497.6" stroke="#333" stroke-width="0.8"/>
<line x1="339.2" y1="497.6" x2="344.2" y2="497.6" stroke="#333" stroke-width="0.9"/>
<rect x="337.15" y="515.1" width="9.1" height="19" fill="#f7981d" stroke="#d98a10" stroke-width="0.5"/>
<line x1="356.2" y1="484.45" x2="356.2" y2="484.1" stroke="#333" stroke-width="0.8"/>
<line x1="353.7" y1="484.1" x2="358.7" y2="484.1" stroke="#333" stroke-width="0.9"/>
<rect x="351.65" y="484.45" width="9.1" height="49.65" fill="#26a9e2" stroke="#1f8fc4" stroke-width="0.5"/>
<line x1="370.3" y1="484.1" x2="370.3" y2="483.6" stroke="#333" stroke-width="0.8"/>
<line x1="367.8" y1="483.6" x2="372.8" y2="483.6" stroke="#333" stroke-width="0.9"/>
<rect x="365.75" y="484.1" width="9.1" height="50" fill="#c60a27" stroke="#9e0c24" stroke-width="0.5"/>
<line x1="327" y1="533.1" x2="327" y2="528.1" stroke="#333" stroke-width="0.8"/>
<line x1="325" y1="528.1" x2="329" y2="528.1" stroke="#333" stroke-width="0.9"/>
<circle cx="309.9" cy="534.1" r="1.45" fill="none" stroke="#262626" stroke-width="0.85"/>
<circle cx="312.9" cy="534.1" r="1.45" fill="none" stroke="#262626" stroke-width="0.85"/>
<circle cx="315.9" cy="534.1" r="1.45" fill="none" stroke="#262626" stroke-width="0.85"/>
<circle cx="325.5" cy="528.1" r="1.45" fill="none" stroke="#262626" stroke-width="0.85"/>
<circle cx="328.5" cy="528.1" r="1.45" fill="none" stroke="#262626" stroke-width="0.85"/>
<circle cx="324" cy="534.1" r="1.45" fill="none" stroke="#262626" stroke-width="0.85"/>
<circle cx="327" cy="534.1" r="1.45" fill="none" stroke="#262626" stroke-width="0.85"/>
<circle cx="330" cy="534.1" r="1.45" fill="none" stroke="#262626" stroke-width="0.85"/>
<polygon points="341.7,490.72 343.51,493.91 339.89,493.91" fill="none" stroke="#262626" stroke-width="0.85"/>
<polygon points="338.7,527.22 340.51,530.4 336.89,530.4" fill="none" stroke="#262626" stroke-width="0.85"/>
<polygon points="341.7,527.22 343.51,530.4 339.89,530.4" fill="none" stroke="#262626" stroke-width="0.85"/>
<polygon points="344.7,527.22 346.51,530.4 342.89,530.4" fill="none" stroke="#262626" stroke-width="0.85"/>
<polygon points="341.7,499.16 343.2,496.52 340.2,496.52" fill="#262626" stroke="#262626" stroke-width="0.85"/>
<line x1="354.3" y1="458.4" x2="369.7" y2="458.4" stroke="#231f20" stroke-width="0.9"/>
<line x1="354.3" y1="457.2" x2="354.3" y2="459.6" stroke="#231f20" stroke-width="0.8"/>
<line x1="369.7" y1="457.2" x2="369.7" y2="459.6" stroke="#231f20" stroke-width="0.8"/>
<circle cx="359.6" cy="454.25" r="1.2" fill="#231f20"/>
<circle cx="364.4" cy="454.25" r="1.2" fill="#231f20"/>
<line x1="340.4" y1="468" x2="369.7" y2="468" stroke="#231f20" stroke-width="0.9"/>
<line x1="340.4" y1="466.8" x2="340.4" y2="469.2" stroke="#231f20" stroke-width="0.8"/>
<line x1="369.7" y1="466.8" x2="369.7" y2="469.2" stroke="#231f20" stroke-width="0.8"/>
<circle cx="352.65" cy="463.9" r="1.2" fill="#231f20"/>
<circle cx="357.45" cy="463.9" r="1.2" fill="#231f20"/>
<line x1="327.1" y1="476.7" x2="356.5" y2="476.7" stroke="#231f20" stroke-width="0.9"/>
<line x1="327.1" y1="475.5" x2="327.1" y2="477.9" stroke="#231f20" stroke-width="0.8"/>
<line x1="356.5" y1="475.5" x2="356.5" y2="477.9" stroke="#231f20" stroke-width="0.8"/>
<circle cx="334.5" cy="473" r="1.2" fill="#231f20"/>
<circle cx="339.37" cy="473" r="1.2" fill="#231f20"/>
<circle cx="344.24" cy="473" r="1.2" fill="#231f20"/>
<circle cx="349.11" cy="473" r="1.2" fill="#231f20"/>
<line x1="326.5" y1="487.6" x2="341.7" y2="487.6" stroke="#231f20" stroke-width="0.9"/>
<line x1="326.5" y1="486.4" x2="326.5" y2="488.8" stroke="#231f20" stroke-width="0.8"/>
<line x1="341.7" y1="486.4" x2="341.7" y2="488.8" stroke="#231f20" stroke-width="0.8"/>
<text x="334.2" y="484.3" font-size="6.6" text-anchor="middle"><tspan font-style="italic">P</tspan> = .08</text>
<text x="-500.2" y="275.14" font-size="8.6" text-anchor="middle" textLength="59.4" lengthAdjust="spacingAndGlyphs" transform="rotate(-90)">% Donor chimerism</text>
<text x="-501" y="285.19" font-size="8.6" text-anchor="middle" textLength="26.5" lengthAdjust="spacingAndGlyphs" transform="rotate(-90)">(H2Kd<tspan font-size="5" dy="-3.0">+</tspan><tspan dy="3.0">)</tspan></text>
<rect x="385.7" y="486.3" width="3" height="3" fill="none" stroke="#2a2a2a" stroke-width="0.8"/>
<text x="391.6" y="490.1" font-size="6.7" textLength="113" lengthAdjust="spacingAndGlyphs">Isotype-ADC (0.5 mg/kg) + Anti-CD40L</text>
<circle cx="387.2" cy="497.4" r="1.5" fill="none" stroke="#2a2a2a" stroke-width="0.8"/>
<text x="391.6" y="499.7" font-size="6.7" textLength="66.75" lengthAdjust="spacingAndGlyphs">CD45-ADC (0.5 mg/kg)</text>
<polygon points="387.2,505.45 389.07,508.75 385.32,508.75" fill="none" stroke="#2a2a2a" stroke-width="0.8"/>
<text x="391.6" y="509.7" font-size="6.7" textLength="108" lengthAdjust="spacingAndGlyphs">CD45-ADC (0.5 mg/kg) + Anti-CD40L</text>
<polygon points="387.2,515.8 389,517.6 387.2,519.4 385.4,517.6" fill="none" stroke="#2a2a2a" stroke-width="0.8"/>
<text x="391.6" y="519.9" font-size="6.7" textLength="66" lengthAdjust="spacingAndGlyphs">CD45-ADC (1.5 mg/kg)</text>
<polygon points="387.2,529.05 389.07,525.75 385.32,525.75" fill="none" stroke="#2a2a2a" stroke-width="0.8"/>
<text x="391.6" y="529.4" font-size="6.7" textLength="109" lengthAdjust="spacingAndGlyphs">CD45-ADC (1.5 mg/kg) + Anti-CD40L</text>
<text x="10" y="567.9" font-size="11.9" font-weight="bold" fill="#000" style="stroke-width:0.35px;fill:#000;stroke:#000">L</text>
<line x1="46.9" y1="575.9" x2="46.9" y2="639.55" stroke="#231f20" stroke-width="1"/>
<line x1="44.3" y1="639.1" x2="46.9" y2="639.1" stroke="#231f20" stroke-width="0.9"/>
<text x="41.4" y="641.1" font-size="6.3" text-anchor="end">0</text>
<line x1="44.3" y1="624.1" x2="46.9" y2="624.1" stroke="#231f20" stroke-width="0.9"/>
<text x="41.4" y="626.1" font-size="6.3" text-anchor="end">20</text>
<line x1="44.3" y1="609.1" x2="46.9" y2="609.1" stroke="#231f20" stroke-width="0.9"/>
<text x="41.4" y="611.1" font-size="6.3" text-anchor="end">40</text>
<line x1="44.3" y1="594.1" x2="46.9" y2="594.1" stroke="#231f20" stroke-width="0.9"/>
<text x="41.4" y="596.1" font-size="6.3" text-anchor="end">60</text>
<line x1="44.3" y1="579.1" x2="46.9" y2="579.1" stroke="#231f20" stroke-width="0.9"/>
<text x="41.4" y="581.1" font-size="6.3" text-anchor="end">80</text>
<line x1="46.4" y1="639.1" x2="124.6" y2="639.1" stroke="#231f20" stroke-width="1"/>
<line x1="64.5" y1="639.1" x2="64.5" y2="641.5" stroke="#231f20" stroke-width="0.8"/>
<line x1="106.2" y1="639.1" x2="106.2" y2="641.5" stroke="#231f20" stroke-width="0.8"/>
<text x="85.6" y="567.8" font-size="8.5" text-anchor="middle">Spleen</text>
<line x1="57" y1="597.4" x2="57" y2="591.1" stroke="#333" stroke-width="0.8"/>
<line x1="54" y1="591.1" x2="60" y2="591.1" stroke="#333" stroke-width="0.9"/>
<rect x="52.05" y="597.4" width="9.9" height="41.7" fill="#26a9e2" stroke="#1f8fc4" stroke-width="0.5"/>
<line x1="72.6" y1="611.12" x2="72.6" y2="609.85" stroke="#333" stroke-width="0.8"/>
<line x1="69.6" y1="609.85" x2="75.6" y2="609.85" stroke="#333" stroke-width="0.9"/>
<rect x="67.65" y="611.12" width="9.9" height="27.98" fill="#c60a27" stroke="#9e0c24" stroke-width="0.5"/>
<line x1="98.5" y1="614.5" x2="98.5" y2="608.35" stroke="#333" stroke-width="0.8"/>
<line x1="95.5" y1="608.35" x2="101.5" y2="608.35" stroke="#333" stroke-width="0.9"/>
<rect x="93.55" y="614.5" width="9.9" height="24.6" fill="#26a9e2" stroke="#1f8fc4" stroke-width="0.5"/>
<line x1="114" y1="620.35" x2="114" y2="619.6" stroke="#333" stroke-width="0.8"/>
<line x1="111" y1="619.6" x2="117" y2="619.6" stroke="#333" stroke-width="0.9"/>
<rect x="109.05" y="620.35" width="9.9" height="18.75" fill="#c60a27" stroke="#9e0c24" stroke-width="0.5"/>
<circle cx="55" cy="590.35" r="1.45" fill="none" stroke="#262626" stroke-width="0.85"/>
<circle cx="60.5" cy="590.35" r="1.45" fill="none" stroke="#262626" stroke-width="0.85"/>
<circle cx="57" cy="597.85" r="1.45" fill="none" stroke="#262626" stroke-width="0.85"/>
<circle cx="56" cy="601.6" r="1.45" fill="none" stroke="#262626" stroke-width="0.85"/>
<circle cx="58" cy="604.6" r="1.45" fill="none" stroke="#262626" stroke-width="0.85"/>
<polygon points="70.6,607.97 72.41,611.15 68.79,611.15" fill="none" stroke="#262626" stroke-width="0.85"/>
<polygon points="72.6,608.72 74.41,611.9 70.79,611.9" fill="none" stroke="#262626" stroke-width="0.85"/>
<polygon points="74.6,608.72 76.41,611.9 72.79,611.9" fill="none" stroke="#262626" stroke-width="0.85"/>
<circle cx="98.5" cy="605.35" r="1.45" fill="none" stroke="#262626" stroke-width="0.85"/>
<circle cx="98.5" cy="609.1" r="1.45" fill="none" stroke="#262626" stroke-width="0.85"/>
<circle cx="95" cy="616.6" r="1.45" fill="none" stroke="#262626" stroke-width="0.85"/>
<circle cx="102" cy="616.6" r="1.45" fill="none" stroke="#262626" stroke-width="0.85"/>
<circle cx="109.5" cy="619.98" r="1.45" fill="none" stroke="#262626" stroke-width="0.85"/>
<circle cx="112.5" cy="619.98" r="1.45" fill="none" stroke="#262626" stroke-width="0.85"/>
<circle cx="115.5" cy="619.98" r="1.45" fill="none" stroke="#262626" stroke-width="0.85"/>
<circle cx="118.5" cy="619.98" r="1.45" fill="none" stroke="#262626" stroke-width="0.85"/>
<circle cx="114" cy="625.6" r="1.45" fill="none" stroke="#262626" stroke-width="0.85"/>
<line x1="56.3" y1="583.7" x2="73.5" y2="583.7" stroke="#231f20" stroke-width="0.9"/>
<line x1="56.3" y1="582.5" x2="56.3" y2="584.9" stroke="#231f20" stroke-width="0.8"/>
<line x1="73.5" y1="582.5" x2="73.5" y2="584.9" stroke="#231f20" stroke-width="0.8"/>
<circle cx="62.05" cy="579.4" r="1.2" fill="#231f20"/>
<circle cx="67.75" cy="579.4" r="1.2" fill="#231f20"/>
<line x1="98.4" y1="596.2" x2="115.3" y2="596.2" stroke="#231f20" stroke-width="0.9"/>
<line x1="98.4" y1="595" x2="98.4" y2="597.4" stroke="#231f20" stroke-width="0.8"/>
<line x1="115.3" y1="595" x2="115.3" y2="597.4" stroke="#231f20" stroke-width="0.8"/>
<circle cx="106.85" cy="591.9" r="1.2" fill="#231f20"/>
<text x="-607.8" y="18.54" font-size="8.6" text-anchor="middle" textLength="40" lengthAdjust="spacingAndGlyphs" transform="rotate(-90)">% Donor cells</text>
<text x="-607.8" y="27.34" font-size="8.6" text-anchor="middle" textLength="26" lengthAdjust="spacingAndGlyphs" transform="rotate(-90)">(H2Kd<tspan font-size="5" dy="-3.0">+</tspan><tspan dy="3.0">)</tspan></text>
<text x="68.1" y="647.6" font-size="6.6" text-anchor="end" textLength="31.6" lengthAdjust="spacingAndGlyphs" transform="rotate(-45 68.1 647.6)">CD3/CD4/</text>
<text x="72.8" y="652.8" font-size="6.6" text-anchor="end" textLength="46.5" lengthAdjust="spacingAndGlyphs" transform="rotate(-45 72.8 652.8)">CD44<tspan font-size="4.3" dy="-2.3">hi</tspan><tspan dy="2.3">/CD62L</tspan><tspan font-size="4.3" dy="-2.3">lo</tspan></text>
<text x="110" y="647.6" font-size="6.6" text-anchor="end" textLength="31.6" lengthAdjust="spacingAndGlyphs" transform="rotate(-45 110 647.6)">CD3/CD8/</text>
<text x="114.7" y="652.8" font-size="6.6" text-anchor="end" textLength="46.5" lengthAdjust="spacingAndGlyphs" transform="rotate(-45 114.7 652.8)">CD44<tspan font-size="4.3" dy="-2.3">hi</tspan><tspan dy="2.3">/CD62L</tspan><tspan font-size="4.3" dy="-2.3">lo</tspan></text>
<text x="139.5" y="567.9" font-size="11.9" font-weight="bold" fill="#000" textLength="10.85" lengthAdjust="spacingAndGlyphs" style="stroke-width:0.35px;fill:#000;stroke:#000">M</text>
<line x1="186.6" y1="575.8" x2="186.6" y2="639.45" stroke="#231f20" stroke-width="1"/>
<line x1="184" y1="639" x2="186.6" y2="639" stroke="#231f20" stroke-width="0.9"/>
<text x="181.1" y="641" font-size="6.3" text-anchor="end">0</text>
<line x1="184" y1="624" x2="186.6" y2="624" stroke="#231f20" stroke-width="0.9"/>
<text x="181.1" y="626" font-size="6.3" text-anchor="end">10</text>
<line x1="184" y1="609" x2="186.6" y2="609" stroke="#231f20" stroke-width="0.9"/>
<text x="181.1" y="611" font-size="6.3" text-anchor="end">20</text>
<line x1="184" y1="594" x2="186.6" y2="594" stroke="#231f20" stroke-width="0.9"/>
<text x="181.1" y="596" font-size="6.3" text-anchor="end">30</text>
<line x1="184" y1="579" x2="186.6" y2="579" stroke="#231f20" stroke-width="0.9"/>
<text x="181.1" y="581" font-size="6.3" text-anchor="end">40</text>
<line x1="186.1" y1="639" x2="264.5" y2="639" stroke="#231f20" stroke-width="1"/>
<line x1="225.3" y1="639" x2="225.3" y2="641.4" stroke="#231f20" stroke-width="0.8"/>
<text x="225" y="568.2" font-size="8.5" text-anchor="middle">Thymus</text>
<line x1="208.4" y1="624.3" x2="208.4" y2="614.4" stroke="#333" stroke-width="0.8"/>
<line x1="202.9" y1="614.4" x2="213.9" y2="614.4" stroke="#333" stroke-width="0.9"/>
<rect x="198.1" y="624.3" width="20.6" height="14.7" fill="#26a9e2" stroke="#1f8fc4" stroke-width="0.5"/>
<line x1="242.2" y1="606" x2="242.2" y2="593.25" stroke="#333" stroke-width="0.8"/>
<line x1="236.7" y1="593.25" x2="247.7" y2="593.25" stroke="#333" stroke-width="0.9"/>
<rect x="231.9" y="606" width="20.6" height="33" fill="#c60a27" stroke="#9e0c24" stroke-width="0.5"/>
<circle cx="208.4" cy="612" r="1.45" fill="none" stroke="#262626" stroke-width="0.85"/>
<circle cx="208.4" cy="615.75" r="1.45" fill="none" stroke="#262626" stroke-width="0.85"/>
<circle cx="208.4" cy="626.25" r="1.45" fill="none" stroke="#262626" stroke-width="0.85"/>
<circle cx="208.4" cy="630.75" r="1.45" fill="none" stroke="#262626" stroke-width="0.85"/>
<circle cx="208.4" cy="636.75" r="1.45" fill="none" stroke="#262626" stroke-width="0.85"/>
<polygon points="242.2,586.87 244.01,590.05 240.39,590.05" fill="none" stroke="#262626" stroke-width="0.85"/>
<polygon points="242.2,598.87 244.01,602.05 240.39,602.05" fill="none" stroke="#262626" stroke-width="0.85"/>
<polygon points="242.2,601.12 244.01,604.3 240.39,604.3" fill="none" stroke="#262626" stroke-width="0.85"/>
<polygon points="239.7,614.62 241.51,617.8 237.89,617.8" fill="none" stroke="#262626" stroke-width="0.85"/>
<polygon points="244.7,614.62 246.51,617.8 242.89,617.8" fill="none" stroke="#262626" stroke-width="0.85"/>
<line x1="208.8" y1="581.8" x2="241.7" y2="581.8" stroke="#231f20" stroke-width="0.9"/>
<line x1="208.8" y1="580.6" x2="208.8" y2="583" stroke="#231f20" stroke-width="0.8"/>
<line x1="241.7" y1="580.6" x2="241.7" y2="583" stroke="#231f20" stroke-width="0.8"/>
<circle cx="225.25" cy="577.4" r="1.2" fill="#231f20"/>
<text x="-607.8" y="146.89" font-size="8.6" text-anchor="middle" textLength="54" lengthAdjust="spacingAndGlyphs" transform="rotate(-90)">% Donor treg cells</text>
<text x="-607.8" y="157.49" font-size="8.6" text-anchor="middle" textLength="54" lengthAdjust="spacingAndGlyphs" transform="rotate(-90)">(H2Kd/CD3/CD4/</text>
<text x="-607.8" y="167.69" font-size="8.6" text-anchor="middle" textLength="44.3" lengthAdjust="spacingAndGlyphs" transform="rotate(-90)">CD25/Foxp3+)</text>
<circle cx="271.9" cy="602.5" r="1.5" fill="none" stroke="#2a2a2a" stroke-width="0.8"/>
<text x="276.3" y="604.8" font-size="6.7" textLength="68" lengthAdjust="spacingAndGlyphs">CD45-ADC (1.5 mg/kg)</text>
<polygon points="271.9,610.55 273.77,613.85 270.02,613.85" fill="none" stroke="#2a2a2a" stroke-width="0.8"/>
<text x="276.3" y="614.8" font-size="6.7" textLength="109" lengthAdjust="spacingAndGlyphs">CD45-ADC (1.5 mg/kg) + Anti-CD40L</text>
</svg>
</body></html>
